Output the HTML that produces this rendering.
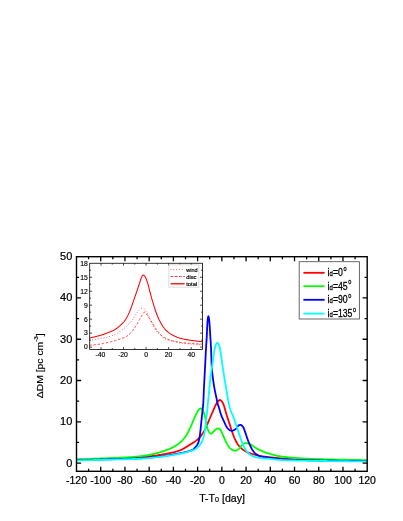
<!DOCTYPE html>
<html><head><meta charset="utf-8"><title>plot</title>
<style>html,body{margin:0;padding:0;background:#fff;}body{width:403px;height:521px;overflow:hidden;}svg{display:block;will-change:transform;transform:translateZ(0);}text{font-family:"Liberation Sans",sans-serif;fill:#000;}</style>
</head><body>
<svg width="403" height="521" viewBox="0 0 403 521">
<rect x="0" y="0" width="403" height="521" fill="#fff"/>
<clipPath id="cm"><rect x="76.5" y="256.7" width="290.7" height="214.60000000000002"/></clipPath>
<g clip-path="url(#cm)" fill="none" stroke-width="1.8" stroke-linejoin="round" stroke-linecap="round">
<path d="M76.80 459.80 L77.12 459.79 L77.45 459.78 L77.77 459.77 L78.09 459.76 L78.42 459.75 L78.74 459.74 L79.06 459.73 L79.39 459.72 L79.71 459.71 L80.03 459.70 L80.36 459.68 L80.68 459.67 L81.01 459.66 L81.33 459.65 L81.65 459.64 L81.98 459.63 L82.30 459.62 L82.62 459.61 L82.95 459.60 L83.27 459.59 L83.59 459.58 L83.92 459.57 L84.24 459.56 L84.56 459.55 L84.89 459.54 L85.21 459.53 L85.53 459.51 L85.86 459.50 L86.18 459.49 L86.50 459.48 L86.83 459.47 L87.15 459.46 L87.47 459.45 L87.80 459.44 L88.12 459.43 L88.44 459.42 L88.77 459.41 L89.09 459.40 L89.42 459.39 L89.74 459.38 L90.06 459.36 L90.39 459.35 L90.71 459.34 L91.03 459.33 L91.36 459.32 L91.68 459.31 L92.00 459.30 L92.33 459.29 L92.65 459.28 L92.97 459.27 L93.30 459.26 L93.62 459.25 L93.94 459.24 L94.27 459.22 L94.59 459.21 L94.91 459.20 L95.24 459.19 L95.56 459.18 L95.88 459.17 L96.21 459.16 L96.53 459.15 L96.86 459.14 L97.18 459.13 L97.50 459.12 L97.83 459.11 L98.15 459.10 L98.47 459.08 L98.80 459.07 L99.12 459.06 L99.44 459.05 L99.77 459.04 L100.09 459.03 L100.41 459.02 L100.74 459.01 L101.06 459.00 L101.38 458.99 L101.71 458.98 L102.03 458.97 L102.35 458.96 L102.68 458.94 L103.00 458.93 L103.32 458.92 L103.65 458.91 L103.97 458.90 L104.29 458.89 L104.62 458.88 L104.94 458.87 L105.27 458.86 L105.59 458.85 L105.91 458.84 L106.24 458.83 L106.56 458.82 L106.88 458.81 L107.21 458.80 L107.53 458.79 L107.85 458.78 L108.18 458.77 L108.50 458.76 L108.82 458.75 L109.15 458.74 L109.47 458.73 L109.79 458.72 L110.12 458.71 L110.44 458.70 L110.76 458.69 L111.09 458.68 L111.41 458.67 L111.73 458.66 L112.06 458.65 L112.38 458.64 L112.71 458.63 L113.03 458.62 L113.35 458.61 L113.68 458.60 L114.00 458.59 L114.32 458.58 L114.65 458.57 L114.97 458.56 L115.29 458.55 L115.62 458.54 L115.94 458.53 L116.26 458.52 L116.59 458.51 L116.91 458.50 L117.23 458.49 L117.56 458.48 L117.88 458.46 L118.20 458.45 L118.53 458.44 L118.85 458.43 L119.17 458.42 L119.50 458.41 L119.82 458.40 L120.15 458.39 L120.47 458.38 L120.79 458.37 L121.12 458.35 L121.44 458.34 L121.76 458.33 L122.09 458.32 L122.41 458.31 L122.73 458.30 L123.06 458.28 L123.38 458.27 L123.70 458.26 L124.03 458.25 L124.35 458.23 L124.67 458.22 L125.00 458.21 L125.32 458.20 L125.64 458.18 L125.97 458.17 L126.29 458.16 L126.61 458.15 L126.94 458.13 L127.26 458.12 L127.58 458.11 L127.91 458.09 L128.23 458.08 L128.56 458.06 L128.88 458.05 L129.20 458.04 L129.53 458.02 L129.85 458.01 L130.17 457.99 L130.50 457.98 L130.82 457.96 L131.14 457.94 L131.47 457.92 L131.79 457.90 L132.11 457.88 L132.44 457.86 L132.76 457.84 L133.08 457.82 L133.41 457.79 L133.73 457.77 L134.05 457.75 L134.38 457.72 L134.70 457.69 L135.02 457.67 L135.35 457.64 L135.67 457.61 L136.00 457.59 L136.32 457.56 L136.64 457.53 L136.97 457.50 L137.29 457.47 L137.61 457.44 L137.94 457.41 L138.26 457.38 L138.58 457.35 L138.91 457.32 L139.23 457.29 L139.55 457.26 L139.88 457.23 L140.20 457.20 L140.52 457.17 L140.85 457.14 L141.17 457.11 L141.49 457.08 L141.82 457.05 L142.14 457.02 L142.46 456.99 L142.79 456.97 L143.11 456.94 L143.43 456.91 L143.76 456.88 L144.08 456.85 L144.41 456.82 L144.73 456.79 L145.05 456.76 L145.38 456.73 L145.70 456.69 L146.02 456.66 L146.35 456.63 L146.67 456.60 L146.99 456.57 L147.32 456.53 L147.64 456.50 L147.96 456.47 L148.29 456.44 L148.61 456.40 L148.93 456.37 L149.26 456.33 L149.58 456.30 L149.90 456.27 L150.23 456.23 L150.55 456.19 L150.87 456.16 L151.20 456.12 L151.52 456.09 L151.85 456.05 L152.17 456.01 L152.49 455.98 L152.82 455.94 L153.14 455.90 L153.46 455.86 L153.79 455.82 L154.11 455.78 L154.43 455.75 L154.76 455.71 L155.08 455.67 L155.40 455.62 L155.73 455.58 L156.05 455.54 L156.37 455.49 L156.70 455.45 L157.02 455.40 L157.34 455.35 L157.67 455.30 L157.99 455.25 L158.31 455.20 L158.64 455.15 L158.96 455.10 L159.28 455.04 L159.61 454.99 L159.93 454.94 L160.26 454.88 L160.58 454.82 L160.90 454.77 L161.23 454.71 L161.55 454.65 L161.87 454.59 L162.20 454.54 L162.52 454.48 L162.84 454.42 L163.17 454.36 L163.49 454.30 L163.81 454.24 L164.14 454.18 L164.46 454.12 L164.78 454.06 L165.11 453.99 L165.43 453.93 L165.75 453.87 L166.08 453.81 L166.40 453.75 L166.72 453.69 L167.05 453.63 L167.37 453.57 L167.70 453.51 L168.02 453.44 L168.34 453.38 L168.67 453.32 L168.99 453.25 L169.31 453.19 L169.64 453.12 L169.96 453.06 L170.28 452.99 L170.61 452.92 L170.93 452.85 L171.25 452.78 L171.58 452.71 L171.90 452.63 L172.22 452.56 L172.55 452.49 L172.87 452.41 L173.19 452.33 L173.52 452.26 L173.84 452.18 L174.16 452.10 L174.49 452.01 L174.81 451.93 L175.14 451.85 L175.46 451.76 L175.78 451.67 L176.11 451.59 L176.43 451.50 L176.75 451.40 L177.08 451.31 L177.40 451.22 L177.72 451.12 L178.05 451.02 L178.37 450.92 L178.69 450.82 L179.02 450.72 L179.34 450.62 L179.66 450.51 L179.99 450.40 L180.31 450.29 L180.63 450.16 L180.96 450.02 L181.28 449.87 L181.60 449.71 L181.93 449.54 L182.25 449.36 L182.57 449.18 L182.90 448.99 L183.22 448.80 L183.55 448.60 L183.87 448.41 L184.19 448.22 L184.52 448.02 L184.84 447.84 L185.16 447.65 L185.49 447.46 L185.81 447.26 L186.13 447.07 L186.46 446.87 L186.78 446.67 L187.10 446.47 L187.43 446.26 L187.75 446.06 L188.07 445.85 L188.40 445.65 L188.72 445.44 L189.04 445.24 L189.37 445.03 L189.69 444.83 L190.01 444.63 L190.34 444.43 L190.66 444.23 L190.99 444.03 L191.31 443.84 L191.63 443.64 L191.96 443.45 L192.28 443.25 L192.60 443.05 L192.93 442.85 L193.25 442.65 L193.57 442.45 L193.90 442.24 L194.22 442.03 L194.54 441.81 L194.87 441.59 L195.19 441.36 L195.51 441.12 L195.84 440.88 L196.16 440.63 L196.48 440.36 L196.81 440.10 L197.13 439.82 L197.45 439.54 L197.78 439.25 L198.10 438.96 L198.42 438.66 L198.75 438.36 L199.07 438.04 L199.40 437.71 L199.72 437.36 L200.04 437.00 L200.37 436.62 L200.69 436.23 L201.01 435.83 L201.34 435.41 L201.66 434.98 L201.98 434.54 L202.31 434.09 L202.63 433.62 L202.95 433.11 L203.28 432.58 L203.60 432.01 L203.92 431.43 L204.25 430.83 L204.57 430.20 L204.89 429.56 L205.22 428.91 L205.54 428.25 L205.86 427.58 L206.19 426.90 L206.51 426.20 L206.84 425.47 L207.16 424.71 L207.48 423.95 L207.81 423.17 L208.13 422.38 L208.45 421.59 L208.78 420.80 L209.10 420.02 L209.42 419.25 L209.75 418.49 L210.07 417.74 L210.39 416.99 L210.72 416.24 L211.04 415.49 L211.36 414.74 L211.69 414.00 L212.01 413.26 L212.33 412.52 L212.66 411.78 L212.98 411.06 L213.30 410.33 L213.63 409.62 L213.95 408.89 L214.27 408.16 L214.60 407.42 L214.92 406.70 L215.25 405.98 L215.57 405.29 L215.89 404.63 L216.22 403.99 L216.54 403.41 L216.86 402.85 L217.19 402.32 L217.51 401.83 L217.83 401.39 L218.16 401.03 L218.48 400.75 L218.80 400.49 L219.13 400.26 L219.45 400.09 L219.77 400.00 L220.10 400.02 L220.42 400.15 L220.74 400.36 L221.07 400.61 L221.39 400.88 L221.71 401.22 L222.04 401.65 L222.36 402.17 L222.69 402.77 L223.01 403.43 L223.33 404.14 L223.66 404.90 L223.98 405.70 L224.30 406.67 L224.63 407.80 L224.95 409.00 L225.27 410.20 L225.60 411.33 L225.92 412.44 L226.24 413.55 L226.57 414.65 L226.89 415.74 L227.21 416.80 L227.54 417.83 L227.86 418.83 L228.18 419.80 L228.51 420.76 L228.83 421.71 L229.15 422.67 L229.48 423.63 L229.80 424.62 L230.13 425.62 L230.45 426.64 L230.77 427.66 L231.10 428.68 L231.42 429.69 L231.74 430.68 L232.07 431.64 L232.39 432.57 L232.71 433.48 L233.04 434.38 L233.36 435.26 L233.68 436.12 L234.01 436.95 L234.33 437.74 L234.65 438.48 L234.98 439.16 L235.30 439.82 L235.62 440.46 L235.95 441.10 L236.27 441.71 L236.59 442.31 L236.92 442.89 L237.24 443.43 L237.56 443.96 L237.89 444.45 L238.21 444.90 L238.54 445.32 L238.86 445.71 L239.18 446.09 L239.51 446.46 L239.83 446.82 L240.15 447.17 L240.48 447.50 L240.80 447.82 L241.12 448.13 L241.45 448.42 L241.77 448.69 L242.09 448.95 L242.42 449.18 L242.74 449.42 L243.06 449.65 L243.39 449.88 L243.71 450.10 L244.03 450.33 L244.36 450.54 L244.68 450.76 L245.00 450.96 L245.33 451.16 L245.65 451.36 L245.98 451.54 L246.30 451.72 L246.62 451.89 L246.95 452.04 L247.27 452.19 L247.59 452.32 L247.92 452.46 L248.24 452.59 L248.56 452.72 L248.89 452.84 L249.21 452.97 L249.53 453.09 L249.86 453.20 L250.18 453.32 L250.50 453.43 L250.83 453.54 L251.15 453.65 L251.47 453.75 L251.80 453.85 L252.12 453.95 L252.44 454.04 L252.77 454.14 L253.09 454.23 L253.41 454.32 L253.74 454.41 L254.06 454.51 L254.39 454.60 L254.71 454.68 L255.03 454.77 L255.36 454.86 L255.68 454.94 L256.00 455.02 L256.33 455.10 L256.65 455.18 L256.97 455.25 L257.30 455.32 L257.62 455.39 L257.94 455.46 L258.27 455.53 L258.59 455.61 L258.91 455.68 L259.24 455.74 L259.56 455.81 L259.88 455.88 L260.21 455.95 L260.53 456.01 L260.85 456.07 L261.18 456.14 L261.50 456.20 L261.83 456.25 L262.15 456.31 L262.47 456.36 L262.80 456.41 L263.12 456.46 L263.44 456.51 L263.77 456.55 L264.09 456.59 L264.41 456.63 L264.74 456.67 L265.06 456.71 L265.38 456.75 L265.71 456.78 L266.03 456.82 L266.35 456.85 L266.68 456.89 L267.00 456.92 L267.32 456.96 L267.65 456.99 L267.97 457.03 L268.29 457.06 L268.62 457.09 L268.94 457.13 L269.26 457.16 L269.59 457.20 L269.91 457.23 L270.24 457.27 L270.56 457.31 L270.88 457.34 L271.21 457.38 L271.53 457.41 L271.85 457.45 L272.18 457.49 L272.50 457.52 L272.82 457.56 L273.15 457.60 L273.47 457.63 L273.79 457.67 L274.12 457.71 L274.44 457.74 L274.76 457.78 L275.09 457.81 L275.41 457.85 L275.73 457.88 L276.06 457.92 L276.38 457.95 L276.70 457.99 L277.03 458.02 L277.35 458.05 L277.68 458.09 L278.00 458.12 L278.32 458.15 L278.65 458.18 L278.97 458.21 L279.29 458.24 L279.62 458.27 L279.94 458.30 L280.26 458.33 L280.59 458.36 L280.91 458.39 L281.23 458.42 L281.56 458.45 L281.88 458.48 L282.20 458.50 L282.53 458.53 L282.85 458.56 L283.17 458.59 L283.50 458.62 L283.82 458.65 L284.14 458.67 L284.47 458.70 L284.79 458.73 L285.12 458.76 L285.44 458.78 L285.76 458.81 L286.09 458.84 L286.41 458.86 L286.73 458.89 L287.06 458.92 L287.38 458.94 L287.70 458.97 L288.03 458.99 L288.35 459.02 L288.67 459.04 L289.00 459.06 L289.32 459.09 L289.64 459.11 L289.97 459.13 L290.29 459.15 L290.61 459.18 L290.94 459.20 L291.26 459.22 L291.58 459.24 L291.91 459.26 L292.23 459.27 L292.55 459.29 L292.88 459.31 L293.20 459.33 L293.53 459.34 L293.85 459.36 L294.17 459.37 L294.50 459.39 L294.82 459.40 L295.14 459.41 L295.47 459.43 L295.79 459.44 L296.11 459.45 L296.44 459.47 L296.76 459.48 L297.08 459.49 L297.41 459.50 L297.73 459.52 L298.05 459.53 L298.38 459.54 L298.70 459.55 L299.02 459.57 L299.35 459.58 L299.67 459.59 L299.99 459.60 L300.32 459.62 L300.64 459.63 L300.97 459.64 L301.29 459.65 L301.61 459.66 L301.94 459.68 L302.26 459.69 L302.58 459.70 L302.91 459.71 L303.23 459.72 L303.55 459.73 L303.88 459.75 L304.20 459.76 L304.52 459.77 L304.85 459.78 L305.17 459.79 L305.49 459.80 L305.82 459.81 L306.14 459.82 L306.46 459.83 L306.79 459.85 L307.11 459.86 L307.43 459.87 L307.76 459.88 L308.08 459.89 L308.40 459.90 L308.73 459.91 L309.05 459.92 L309.38 459.93 L309.70 459.94 L310.02 459.95 L310.35 459.96 L310.67 459.97 L310.99 459.98 L311.32 459.99 L311.64 460.00 L311.96 460.01 L312.29 460.02 L312.61 460.03 L312.93 460.04 L313.26 460.04 L313.58 460.05 L313.90 460.06 L314.23 460.07 L314.55 460.08 L314.87 460.09 L315.20 460.10 L315.52 460.11 L315.84 460.11 L316.17 460.12 L316.49 460.13 L316.82 460.14 L317.14 460.15 L317.46 460.15 L317.79 460.16 L318.11 460.17 L318.43 460.18 L318.76 460.18 L319.08 460.19 L319.40 460.20 L319.73 460.20 L320.05 460.21 L320.37 460.22 L320.70 460.22 L321.02 460.23 L321.34 460.24 L321.67 460.24 L321.99 460.25 L322.31 460.26 L322.64 460.26 L322.96 460.27 L323.28 460.27 L323.61 460.28 L323.93 460.28 L324.25 460.29 L324.58 460.29 L324.90 460.30 L325.23 460.30 L325.55 460.31 L325.87 460.31 L326.20 460.32 L326.52 460.32 L326.84 460.33 L327.17 460.33 L327.49 460.34 L327.81 460.34 L328.14 460.35 L328.46 460.35 L328.78 460.36 L329.11 460.36 L329.43 460.37 L329.75 460.37 L330.08 460.38 L330.40 460.38 L330.72 460.39 L331.05 460.39 L331.37 460.40 L331.69 460.40 L332.02 460.41 L332.34 460.41 L332.67 460.42 L332.99 460.42 L333.31 460.43 L333.64 460.43 L333.96 460.44 L334.28 460.44 L334.61 460.45 L334.93 460.45 L335.25 460.46 L335.58 460.46 L335.90 460.47 L336.22 460.47 L336.55 460.48 L336.87 460.48 L337.19 460.49 L337.52 460.49 L337.84 460.50 L338.16 460.50 L338.49 460.51 L338.81 460.51 L339.13 460.52 L339.46 460.52 L339.78 460.53 L340.11 460.53 L340.43 460.54 L340.75 460.54 L341.08 460.55 L341.40 460.55 L341.72 460.55 L342.05 460.56 L342.37 460.56 L342.69 460.57 L343.02 460.57 L343.34 460.58 L343.66 460.58 L343.99 460.59 L344.31 460.59 L344.63 460.60 L344.96 460.60 L345.28 460.61 L345.60 460.61 L345.93 460.61 L346.25 460.62 L346.57 460.62 L346.90 460.63 L347.22 460.63 L347.54 460.64 L347.87 460.64 L348.19 460.64 L348.52 460.65 L348.84 460.65 L349.16 460.66 L349.49 460.66 L349.81 460.66 L350.13 460.67 L350.46 460.67 L350.78 460.68 L351.10 460.68 L351.43 460.68 L351.75 460.69 L352.07 460.69 L352.40 460.69 L352.72 460.70 L353.04 460.70 L353.37 460.70 L353.69 460.71 L354.01 460.71 L354.34 460.71 L354.66 460.72 L354.98 460.72 L355.31 460.72 L355.63 460.73 L355.96 460.73 L356.28 460.73 L356.60 460.74 L356.93 460.74 L357.25 460.74 L357.57 460.75 L357.90 460.75 L358.22 460.75 L358.54 460.75 L358.87 460.76 L359.19 460.76 L359.51 460.76 L359.84 460.76 L360.16 460.77 L360.48 460.77 L360.81 460.77 L361.13 460.77 L361.45 460.77 L361.78 460.78 L362.10 460.78 L362.42 460.78 L362.75 460.78 L363.07 460.78 L363.39 460.79 L363.72 460.79 L364.04 460.79 L364.37 460.79 L364.69 460.79 L365.01 460.79 L365.34 460.79 L365.66 460.79 L365.98 460.80 L366.31 460.80 L366.63 460.80 L366.95 460.80 L367.28 460.80 L367.60 460.80" stroke="#ff0000"/>
<path d="M76.80 459.30 L77.12 459.29 L77.45 459.28 L77.77 459.27 L78.09 459.27 L78.42 459.26 L78.74 459.25 L79.06 459.24 L79.39 459.23 L79.71 459.22 L80.03 459.21 L80.36 459.20 L80.68 459.19 L81.01 459.18 L81.33 459.18 L81.65 459.17 L81.98 459.16 L82.30 459.15 L82.62 459.14 L82.95 459.13 L83.27 459.12 L83.59 459.11 L83.92 459.10 L84.24 459.09 L84.56 459.08 L84.89 459.07 L85.21 459.05 L85.53 459.04 L85.86 459.03 L86.18 459.02 L86.50 459.01 L86.83 459.00 L87.15 458.99 L87.47 458.98 L87.80 458.97 L88.12 458.96 L88.44 458.95 L88.77 458.94 L89.09 458.93 L89.42 458.91 L89.74 458.90 L90.06 458.89 L90.39 458.88 L90.71 458.87 L91.03 458.86 L91.36 458.85 L91.68 458.84 L92.00 458.82 L92.33 458.81 L92.65 458.80 L92.97 458.79 L93.30 458.78 L93.62 458.77 L93.94 458.75 L94.27 458.74 L94.59 458.73 L94.91 458.72 L95.24 458.71 L95.56 458.70 L95.88 458.68 L96.21 458.67 L96.53 458.66 L96.86 458.65 L97.18 458.64 L97.50 458.63 L97.83 458.61 L98.15 458.60 L98.47 458.59 L98.80 458.58 L99.12 458.57 L99.44 458.56 L99.77 458.54 L100.09 458.53 L100.41 458.52 L100.74 458.51 L101.06 458.50 L101.38 458.49 L101.71 458.47 L102.03 458.46 L102.35 458.45 L102.68 458.44 L103.00 458.43 L103.32 458.41 L103.65 458.40 L103.97 458.39 L104.29 458.38 L104.62 458.37 L104.94 458.35 L105.27 458.34 L105.59 458.33 L105.91 458.32 L106.24 458.30 L106.56 458.29 L106.88 458.28 L107.21 458.27 L107.53 458.25 L107.85 458.24 L108.18 458.23 L108.50 458.21 L108.82 458.20 L109.15 458.19 L109.47 458.17 L109.79 458.16 L110.12 458.15 L110.44 458.13 L110.76 458.12 L111.09 458.11 L111.41 458.09 L111.73 458.08 L112.06 458.07 L112.38 458.05 L112.71 458.04 L113.03 458.03 L113.35 458.01 L113.68 458.00 L114.00 457.98 L114.32 457.97 L114.65 457.95 L114.97 457.94 L115.29 457.93 L115.62 457.91 L115.94 457.90 L116.26 457.88 L116.59 457.87 L116.91 457.85 L117.23 457.84 L117.56 457.82 L117.88 457.81 L118.20 457.79 L118.53 457.78 L118.85 457.76 L119.17 457.75 L119.50 457.73 L119.82 457.72 L120.15 457.70 L120.47 457.69 L120.79 457.67 L121.12 457.66 L121.44 457.64 L121.76 457.62 L122.09 457.61 L122.41 457.59 L122.73 457.58 L123.06 457.56 L123.38 457.54 L123.70 457.53 L124.03 457.51 L124.35 457.50 L124.67 457.48 L125.00 457.46 L125.32 457.45 L125.64 457.43 L125.97 457.41 L126.29 457.40 L126.61 457.38 L126.94 457.36 L127.26 457.35 L127.58 457.33 L127.91 457.31 L128.23 457.29 L128.56 457.28 L128.88 457.26 L129.20 457.24 L129.53 457.23 L129.85 457.21 L130.17 457.19 L130.50 457.17 L130.82 457.15 L131.14 457.13 L131.47 457.11 L131.79 457.09 L132.11 457.06 L132.44 457.04 L132.76 457.01 L133.08 456.99 L133.41 456.96 L133.73 456.93 L134.05 456.91 L134.38 456.88 L134.70 456.85 L135.02 456.82 L135.35 456.78 L135.67 456.75 L136.00 456.72 L136.32 456.69 L136.64 456.65 L136.97 456.62 L137.29 456.59 L137.61 456.55 L137.94 456.52 L138.26 456.48 L138.58 456.44 L138.91 456.41 L139.23 456.37 L139.55 456.33 L139.88 456.30 L140.20 456.26 L140.52 456.22 L140.85 456.18 L141.17 456.15 L141.49 456.11 L141.82 456.07 L142.14 456.03 L142.46 455.99 L142.79 455.95 L143.11 455.91 L143.43 455.87 L143.76 455.83 L144.08 455.78 L144.41 455.73 L144.73 455.69 L145.05 455.64 L145.38 455.58 L145.70 455.53 L146.02 455.48 L146.35 455.42 L146.67 455.37 L146.99 455.31 L147.32 455.25 L147.64 455.20 L147.96 455.14 L148.29 455.07 L148.61 455.01 L148.93 454.95 L149.26 454.89 L149.58 454.82 L149.90 454.76 L150.23 454.69 L150.55 454.62 L150.87 454.56 L151.20 454.49 L151.52 454.42 L151.85 454.35 L152.17 454.28 L152.49 454.21 L152.82 454.14 L153.14 454.07 L153.46 454.00 L153.79 453.93 L154.11 453.85 L154.43 453.78 L154.76 453.71 L155.08 453.64 L155.40 453.56 L155.73 453.48 L156.05 453.40 L156.37 453.32 L156.70 453.24 L157.02 453.15 L157.34 453.06 L157.67 452.97 L157.99 452.88 L158.31 452.79 L158.64 452.70 L158.96 452.60 L159.28 452.50 L159.61 452.40 L159.93 452.30 L160.26 452.20 L160.58 452.10 L160.90 451.99 L161.23 451.89 L161.55 451.78 L161.87 451.68 L162.20 451.57 L162.52 451.46 L162.84 451.35 L163.17 451.24 L163.49 451.12 L163.81 451.01 L164.14 450.90 L164.46 450.78 L164.78 450.67 L165.11 450.55 L165.43 450.44 L165.75 450.32 L166.08 450.21 L166.40 450.09 L166.72 449.97 L167.05 449.85 L167.37 449.74 L167.70 449.62 L168.02 449.49 L168.34 449.36 L168.67 449.23 L168.99 449.09 L169.31 448.95 L169.64 448.81 L169.96 448.67 L170.28 448.52 L170.61 448.37 L170.93 448.22 L171.25 448.06 L171.58 447.91 L171.90 447.75 L172.22 447.59 L172.55 447.43 L172.87 447.27 L173.19 447.10 L173.52 446.94 L173.84 446.77 L174.16 446.60 L174.49 446.42 L174.81 446.23 L175.14 446.05 L175.46 445.85 L175.78 445.66 L176.11 445.46 L176.43 445.25 L176.75 445.04 L177.08 444.83 L177.40 444.61 L177.72 444.39 L178.05 444.16 L178.37 443.94 L178.69 443.70 L179.02 443.47 L179.34 443.21 L179.66 442.94 L179.99 442.66 L180.31 442.37 L180.63 442.07 L180.96 441.76 L181.28 441.44 L181.60 441.12 L181.93 440.79 L182.25 440.45 L182.57 440.12 L182.90 439.76 L183.22 439.39 L183.55 439.01 L183.87 438.62 L184.19 438.21 L184.52 437.78 L184.84 437.35 L185.16 436.90 L185.49 436.45 L185.81 435.98 L186.13 435.50 L186.46 435.01 L186.78 434.49 L187.10 433.94 L187.43 433.37 L187.75 432.78 L188.07 432.18 L188.40 431.55 L188.72 430.92 L189.04 430.26 L189.37 429.60 L189.69 428.94 L190.01 428.26 L190.34 427.56 L190.66 426.83 L190.99 426.08 L191.31 425.32 L191.63 424.55 L191.96 423.77 L192.28 422.98 L192.60 422.20 L192.93 421.42 L193.25 420.66 L193.57 419.91 L193.90 419.17 L194.22 418.43 L194.54 417.68 L194.87 416.95 L195.19 416.22 L195.51 415.51 L195.84 414.83 L196.16 414.18 L196.48 413.53 L196.81 412.88 L197.13 412.25 L197.45 411.65 L197.78 411.08 L198.10 410.56 L198.42 410.11 L198.75 409.73 L199.07 409.39 L199.40 409.09 L199.72 408.84 L200.04 408.64 L200.37 408.49 L200.69 408.41 L201.01 408.42 L201.34 408.57 L201.66 408.84 L201.98 409.21 L202.31 409.64 L202.63 410.10 L202.95 410.58 L203.28 411.21 L203.60 412.03 L203.92 413.00 L204.25 414.09 L204.57 415.25 L204.89 416.47 L205.22 417.91 L205.54 419.56 L205.86 421.28 L206.19 422.95 L206.51 424.44 L206.84 425.73 L207.16 427.00 L207.48 428.20 L207.81 429.29 L208.13 430.21 L208.45 430.92 L208.78 431.47 L209.10 432.02 L209.42 432.54 L209.75 433.01 L210.07 433.39 L210.39 433.64 L210.72 433.75 L211.04 433.68 L211.36 433.50 L211.69 433.27 L212.01 433.01 L212.33 432.72 L212.66 432.42 L212.98 432.10 L213.30 431.79 L213.63 431.48 L213.95 431.14 L214.27 430.79 L214.60 430.43 L214.92 430.08 L215.25 429.75 L215.57 429.45 L215.89 429.21 L216.22 429.01 L216.54 428.84 L216.86 428.71 L217.19 428.62 L217.51 428.55 L217.83 428.51 L218.16 428.50 L218.48 428.53 L218.80 428.61 L219.13 428.76 L219.45 428.96 L219.77 429.21 L220.10 429.50 L220.42 429.84 L220.74 430.21 L221.07 430.64 L221.39 431.27 L221.71 432.04 L222.04 432.87 L222.36 433.68 L222.69 434.42 L223.01 435.17 L223.33 435.93 L223.66 436.70 L223.98 437.47 L224.30 438.24 L224.63 439.00 L224.95 439.73 L225.27 440.45 L225.60 441.13 L225.92 441.78 L226.24 442.38 L226.57 442.96 L226.89 443.54 L227.21 444.11 L227.54 444.66 L227.86 445.20 L228.18 445.71 L228.51 446.21 L228.83 446.67 L229.15 447.10 L229.48 447.50 L229.80 447.87 L230.13 448.19 L230.45 448.46 L230.77 448.70 L231.10 448.95 L231.42 449.18 L231.74 449.41 L232.07 449.63 L232.39 449.84 L232.71 450.03 L233.04 450.20 L233.36 450.35 L233.68 450.48 L234.01 450.58 L234.33 450.65 L234.65 450.69 L234.98 450.70 L235.30 450.67 L235.62 450.62 L235.95 450.54 L236.27 450.43 L236.59 450.31 L236.92 450.16 L237.24 449.99 L237.56 449.80 L237.89 449.60 L238.21 449.38 L238.54 449.15 L238.86 448.88 L239.18 448.55 L239.51 448.17 L239.83 447.75 L240.15 447.30 L240.48 446.86 L240.80 446.42 L241.12 446.01 L241.45 445.65 L241.77 445.34 L242.09 445.05 L242.42 444.77 L242.74 444.49 L243.06 444.23 L243.39 443.98 L243.71 443.76 L244.03 443.56 L244.36 443.40 L244.68 443.28 L245.00 443.20 L245.33 443.14 L245.65 443.10 L245.98 443.09 L246.30 443.13 L246.62 443.17 L246.95 443.22 L247.27 443.29 L247.59 443.36 L247.92 443.45 L248.24 443.54 L248.56 443.64 L248.89 443.75 L249.21 443.87 L249.53 443.99 L249.86 444.12 L250.18 444.27 L250.50 444.44 L250.83 444.62 L251.15 444.81 L251.47 445.02 L251.80 445.23 L252.12 445.45 L252.44 445.68 L252.77 445.91 L253.09 446.14 L253.41 446.36 L253.74 446.58 L254.06 446.80 L254.39 447.01 L254.71 447.21 L255.03 447.40 L255.36 447.59 L255.68 447.78 L256.00 447.97 L256.33 448.16 L256.65 448.35 L256.97 448.53 L257.30 448.72 L257.62 448.90 L257.94 449.08 L258.27 449.26 L258.59 449.43 L258.91 449.60 L259.24 449.77 L259.56 449.93 L259.88 450.09 L260.21 450.25 L260.53 450.41 L260.85 450.56 L261.18 450.72 L261.50 450.87 L261.83 451.02 L262.15 451.16 L262.47 451.31 L262.80 451.45 L263.12 451.59 L263.44 451.72 L263.77 451.85 L264.09 451.98 L264.41 452.10 L264.74 452.21 L265.06 452.32 L265.38 452.43 L265.71 452.54 L266.03 452.64 L266.35 452.74 L266.68 452.83 L267.00 452.93 L267.32 453.02 L267.65 453.12 L267.97 453.21 L268.29 453.31 L268.62 453.40 L268.94 453.50 L269.26 453.60 L269.59 453.70 L269.91 453.80 L270.24 453.91 L270.56 454.02 L270.88 454.13 L271.21 454.23 L271.53 454.34 L271.85 454.44 L272.18 454.54 L272.50 454.63 L272.82 454.71 L273.15 454.80 L273.47 454.89 L273.79 454.98 L274.12 455.06 L274.44 455.15 L274.76 455.23 L275.09 455.31 L275.41 455.39 L275.73 455.47 L276.06 455.55 L276.38 455.63 L276.70 455.70 L277.03 455.78 L277.35 455.85 L277.68 455.91 L278.00 455.98 L278.32 456.04 L278.65 456.10 L278.97 456.16 L279.29 456.21 L279.62 456.26 L279.94 456.31 L280.26 456.35 L280.59 456.39 L280.91 456.44 L281.23 456.48 L281.56 456.52 L281.88 456.57 L282.20 456.61 L282.53 456.65 L282.85 456.69 L283.17 456.73 L283.50 456.78 L283.82 456.82 L284.14 456.86 L284.47 456.90 L284.79 456.93 L285.12 456.97 L285.44 457.01 L285.76 457.05 L286.09 457.09 L286.41 457.12 L286.73 457.16 L287.06 457.20 L287.38 457.23 L287.70 457.27 L288.03 457.30 L288.35 457.33 L288.67 457.37 L289.00 457.40 L289.32 457.43 L289.64 457.47 L289.97 457.50 L290.29 457.53 L290.61 457.56 L290.94 457.59 L291.26 457.62 L291.58 457.65 L291.91 457.67 L292.23 457.70 L292.55 457.73 L292.88 457.75 L293.20 457.78 L293.53 457.81 L293.85 457.83 L294.17 457.85 L294.50 457.88 L294.82 457.90 L295.14 457.92 L295.47 457.95 L295.79 457.97 L296.11 457.99 L296.44 458.01 L296.76 458.04 L297.08 458.06 L297.41 458.08 L297.73 458.11 L298.05 458.13 L298.38 458.15 L298.70 458.17 L299.02 458.19 L299.35 458.22 L299.67 458.24 L299.99 458.26 L300.32 458.28 L300.64 458.30 L300.97 458.32 L301.29 458.35 L301.61 458.37 L301.94 458.39 L302.26 458.41 L302.58 458.43 L302.91 458.45 L303.23 458.47 L303.55 458.49 L303.88 458.51 L304.20 458.53 L304.52 458.55 L304.85 458.56 L305.17 458.58 L305.49 458.60 L305.82 458.62 L306.14 458.64 L306.46 458.65 L306.79 458.67 L307.11 458.68 L307.43 458.70 L307.76 458.72 L308.08 458.73 L308.40 458.75 L308.73 458.76 L309.05 458.77 L309.38 458.79 L309.70 458.80 L310.02 458.81 L310.35 458.83 L310.67 458.84 L310.99 458.85 L311.32 458.86 L311.64 458.88 L311.96 458.89 L312.29 458.90 L312.61 458.91 L312.93 458.92 L313.26 458.94 L313.58 458.95 L313.90 458.96 L314.23 458.97 L314.55 458.98 L314.87 459.00 L315.20 459.01 L315.52 459.02 L315.84 459.03 L316.17 459.04 L316.49 459.05 L316.82 459.06 L317.14 459.07 L317.46 459.09 L317.79 459.10 L318.11 459.11 L318.43 459.12 L318.76 459.13 L319.08 459.14 L319.40 459.15 L319.73 459.16 L320.05 459.17 L320.37 459.18 L320.70 459.19 L321.02 459.20 L321.34 459.21 L321.67 459.22 L321.99 459.22 L322.31 459.23 L322.64 459.24 L322.96 459.25 L323.28 459.26 L323.61 459.27 L323.93 459.28 L324.25 459.28 L324.58 459.29 L324.90 459.30 L325.23 459.31 L325.55 459.31 L325.87 459.32 L326.20 459.33 L326.52 459.33 L326.84 459.34 L327.17 459.35 L327.49 459.36 L327.81 459.36 L328.14 459.37 L328.46 459.38 L328.78 459.39 L329.11 459.39 L329.43 459.40 L329.75 459.41 L330.08 459.41 L330.40 459.42 L330.72 459.43 L331.05 459.44 L331.37 459.44 L331.69 459.45 L332.02 459.46 L332.34 459.47 L332.67 459.47 L332.99 459.48 L333.31 459.49 L333.64 459.50 L333.96 459.50 L334.28 459.51 L334.61 459.52 L334.93 459.52 L335.25 459.53 L335.58 459.54 L335.90 459.55 L336.22 459.55 L336.55 459.56 L336.87 459.57 L337.19 459.58 L337.52 459.58 L337.84 459.59 L338.16 459.60 L338.49 459.60 L338.81 459.61 L339.13 459.62 L339.46 459.63 L339.78 459.63 L340.11 459.64 L340.43 459.65 L340.75 459.65 L341.08 459.66 L341.40 459.67 L341.72 459.68 L342.05 459.68 L342.37 459.69 L342.69 459.70 L343.02 459.70 L343.34 459.71 L343.66 459.72 L343.99 459.72 L344.31 459.73 L344.63 459.74 L344.96 459.74 L345.28 459.75 L345.60 459.76 L345.93 459.76 L346.25 459.77 L346.57 459.78 L346.90 459.78 L347.22 459.79 L347.54 459.80 L347.87 459.80 L348.19 459.81 L348.52 459.82 L348.84 459.82 L349.16 459.83 L349.49 459.83 L349.81 459.84 L350.13 459.85 L350.46 459.85 L350.78 459.86 L351.10 459.87 L351.43 459.87 L351.75 459.88 L352.07 459.88 L352.40 459.89 L352.72 459.90 L353.04 459.90 L353.37 459.91 L353.69 459.91 L354.01 459.92 L354.34 459.92 L354.66 459.93 L354.98 459.93 L355.31 459.94 L355.63 459.95 L355.96 459.95 L356.28 459.96 L356.60 459.96 L356.93 459.97 L357.25 459.97 L357.57 459.98 L357.90 459.98 L358.22 459.99 L358.54 459.99 L358.87 460.00 L359.19 460.00 L359.51 460.01 L359.84 460.01 L360.16 460.01 L360.48 460.02 L360.81 460.02 L361.13 460.03 L361.45 460.03 L361.78 460.04 L362.10 460.04 L362.42 460.04 L362.75 460.05 L363.07 460.05 L363.39 460.06 L363.72 460.06 L364.04 460.06 L364.37 460.07 L364.69 460.07 L365.01 460.07 L365.34 460.08 L365.66 460.08 L365.98 460.08 L366.31 460.09 L366.63 460.09 L366.95 460.09 L367.28 460.10 L367.60 460.10" stroke="#00ff00"/>
<path d="M76.80 460.20 L77.12 460.19 L77.45 460.18 L77.77 460.17 L78.09 460.16 L78.42 460.15 L78.74 460.14 L79.06 460.13 L79.39 460.12 L79.71 460.11 L80.03 460.10 L80.36 460.10 L80.68 460.09 L81.01 460.08 L81.33 460.07 L81.65 460.06 L81.98 460.05 L82.30 460.04 L82.62 460.03 L82.95 460.02 L83.27 460.01 L83.59 460.00 L83.92 459.99 L84.24 459.98 L84.56 459.97 L84.89 459.96 L85.21 459.95 L85.53 459.94 L85.86 459.93 L86.18 459.93 L86.50 459.92 L86.83 459.91 L87.15 459.90 L87.47 459.89 L87.80 459.88 L88.12 459.87 L88.44 459.86 L88.77 459.85 L89.09 459.84 L89.42 459.83 L89.74 459.82 L90.06 459.81 L90.39 459.80 L90.71 459.79 L91.03 459.78 L91.36 459.78 L91.68 459.77 L92.00 459.76 L92.33 459.75 L92.65 459.74 L92.97 459.73 L93.30 459.72 L93.62 459.71 L93.94 459.70 L94.27 459.69 L94.59 459.68 L94.91 459.67 L95.24 459.66 L95.56 459.65 L95.88 459.65 L96.21 459.64 L96.53 459.63 L96.86 459.62 L97.18 459.61 L97.50 459.60 L97.83 459.59 L98.15 459.58 L98.47 459.57 L98.80 459.56 L99.12 459.55 L99.44 459.54 L99.77 459.54 L100.09 459.53 L100.41 459.52 L100.74 459.51 L101.06 459.50 L101.38 459.49 L101.71 459.48 L102.03 459.47 L102.35 459.46 L102.68 459.45 L103.00 459.44 L103.32 459.43 L103.65 459.43 L103.97 459.42 L104.29 459.41 L104.62 459.40 L104.94 459.39 L105.27 459.38 L105.59 459.37 L105.91 459.36 L106.24 459.35 L106.56 459.35 L106.88 459.34 L107.21 459.33 L107.53 459.32 L107.85 459.31 L108.18 459.30 L108.50 459.29 L108.82 459.28 L109.15 459.28 L109.47 459.27 L109.79 459.26 L110.12 459.25 L110.44 459.24 L110.76 459.23 L111.09 459.22 L111.41 459.22 L111.73 459.21 L112.06 459.20 L112.38 459.19 L112.71 459.18 L113.03 459.17 L113.35 459.16 L113.68 459.16 L114.00 459.15 L114.32 459.14 L114.65 459.13 L114.97 459.12 L115.29 459.11 L115.62 459.10 L115.94 459.09 L116.26 459.09 L116.59 459.08 L116.91 459.07 L117.23 459.06 L117.56 459.05 L117.88 459.04 L118.20 459.03 L118.53 459.03 L118.85 459.02 L119.17 459.01 L119.50 459.00 L119.82 458.99 L120.15 458.98 L120.47 458.97 L120.79 458.96 L121.12 458.95 L121.44 458.95 L121.76 458.94 L122.09 458.93 L122.41 458.92 L122.73 458.91 L123.06 458.90 L123.38 458.89 L123.70 458.88 L124.03 458.87 L124.35 458.86 L124.67 458.86 L125.00 458.85 L125.32 458.84 L125.64 458.83 L125.97 458.82 L126.29 458.81 L126.61 458.80 L126.94 458.79 L127.26 458.78 L127.58 458.77 L127.91 458.76 L128.23 458.75 L128.56 458.74 L128.88 458.73 L129.20 458.72 L129.53 458.71 L129.85 458.70 L130.17 458.69 L130.50 458.68 L130.82 458.67 L131.14 458.66 L131.47 458.65 L131.79 458.64 L132.11 458.63 L132.44 458.62 L132.76 458.61 L133.08 458.60 L133.41 458.59 L133.73 458.58 L134.05 458.57 L134.38 458.55 L134.70 458.54 L135.02 458.53 L135.35 458.52 L135.67 458.50 L136.00 458.49 L136.32 458.48 L136.64 458.47 L136.97 458.45 L137.29 458.44 L137.61 458.43 L137.94 458.41 L138.26 458.40 L138.58 458.38 L138.91 458.37 L139.23 458.35 L139.55 458.34 L139.88 458.32 L140.20 458.31 L140.52 458.29 L140.85 458.28 L141.17 458.26 L141.49 458.25 L141.82 458.23 L142.14 458.21 L142.46 458.20 L142.79 458.18 L143.11 458.16 L143.43 458.14 L143.76 458.12 L144.08 458.10 L144.41 458.08 L144.73 458.06 L145.05 458.03 L145.38 458.01 L145.70 457.98 L146.02 457.96 L146.35 457.93 L146.67 457.90 L146.99 457.88 L147.32 457.85 L147.64 457.82 L147.96 457.79 L148.29 457.76 L148.61 457.73 L148.93 457.70 L149.26 457.67 L149.58 457.64 L149.90 457.60 L150.23 457.57 L150.55 457.54 L150.87 457.51 L151.20 457.47 L151.52 457.44 L151.85 457.41 L152.17 457.37 L152.49 457.34 L152.82 457.31 L153.14 457.27 L153.46 457.24 L153.79 457.21 L154.11 457.17 L154.43 457.14 L154.76 457.10 L155.08 457.07 L155.40 457.04 L155.73 457.00 L156.05 456.97 L156.37 456.93 L156.70 456.89 L157.02 456.86 L157.34 456.82 L157.67 456.78 L157.99 456.74 L158.31 456.70 L158.64 456.66 L158.96 456.62 L159.28 456.58 L159.61 456.54 L159.93 456.50 L160.26 456.46 L160.58 456.42 L160.90 456.37 L161.23 456.33 L161.55 456.29 L161.87 456.24 L162.20 456.20 L162.52 456.16 L162.84 456.11 L163.17 456.07 L163.49 456.02 L163.81 455.98 L164.14 455.93 L164.46 455.89 L164.78 455.84 L165.11 455.80 L165.43 455.75 L165.75 455.71 L166.08 455.66 L166.40 455.61 L166.72 455.57 L167.05 455.52 L167.37 455.48 L167.70 455.43 L168.02 455.38 L168.34 455.33 L168.67 455.28 L168.99 455.23 L169.31 455.18 L169.64 455.13 L169.96 455.08 L170.28 455.03 L170.61 454.98 L170.93 454.92 L171.25 454.87 L171.58 454.81 L171.90 454.76 L172.22 454.71 L172.55 454.65 L172.87 454.59 L173.19 454.54 L173.52 454.48 L173.84 454.42 L174.16 454.37 L174.49 454.31 L174.81 454.25 L175.14 454.19 L175.46 454.13 L175.78 454.08 L176.11 454.02 L176.43 453.96 L176.75 453.90 L177.08 453.84 L177.40 453.78 L177.72 453.72 L178.05 453.66 L178.37 453.60 L178.69 453.54 L179.02 453.48 L179.34 453.42 L179.66 453.36 L179.99 453.30 L180.31 453.24 L180.63 453.18 L180.96 453.12 L181.28 453.06 L181.60 452.99 L181.93 452.93 L182.25 452.86 L182.57 452.79 L182.90 452.72 L183.22 452.65 L183.55 452.58 L183.87 452.50 L184.19 452.43 L184.52 452.35 L184.84 452.28 L185.16 452.20 L185.49 452.12 L185.81 452.04 L186.13 451.95 L186.46 451.87 L186.78 451.78 L187.10 451.69 L187.43 451.60 L187.75 451.51 L188.07 451.42 L188.40 451.32 L188.72 451.23 L189.04 451.13 L189.37 451.03 L189.69 450.93 L190.01 450.82 L190.34 450.72 L190.66 450.61 L190.99 450.50 L191.31 450.39 L191.63 450.28 L191.96 450.16 L192.28 450.04 L192.60 449.91 L192.93 449.72 L193.25 449.48 L193.57 449.19 L193.90 448.87 L194.22 448.52 L194.54 448.16 L194.87 447.79 L195.19 447.43 L195.51 447.09 L195.84 446.73 L196.16 446.33 L196.48 445.89 L196.81 445.41 L197.13 444.91 L197.45 444.37 L197.78 443.80 L198.10 443.19 L198.42 442.32 L198.75 441.16 L199.07 439.78 L199.40 438.23 L199.72 436.52 L200.04 434.11 L200.37 431.30 L200.69 428.34 L201.01 425.15 L201.34 421.95 L201.66 418.75 L201.98 415.53 L202.31 412.34 L202.63 409.53 L202.95 406.81 L203.28 403.30 L203.60 396.63 L203.92 388.71 L204.25 382.46 L204.57 376.40 L204.89 370.26 L205.22 364.05 L205.54 357.52 L205.86 351.15 L206.19 345.75 L206.51 340.88 L206.84 335.30 L207.16 327.44 L207.48 321.76 L207.81 318.56 L208.13 316.86 L208.45 316.24 L208.78 317.36 L209.10 319.34 L209.42 322.68 L209.75 326.99 L210.07 332.22 L210.39 337.47 L210.72 342.53 L211.04 348.28 L211.36 357.72 L211.69 365.78 L212.01 370.23 L212.33 373.74 L212.66 376.49 L212.98 378.84 L213.30 381.13 L213.63 383.35 L213.95 385.45 L214.27 387.41 L214.60 389.19 L214.92 390.83 L215.25 392.38 L215.57 393.88 L215.89 395.36 L216.22 396.83 L216.54 398.34 L216.86 399.91 L217.19 401.58 L217.51 403.04 L217.83 404.22 L218.16 405.28 L218.48 406.27 L218.80 407.25 L219.13 408.26 L219.45 409.35 L219.77 410.48 L220.10 411.61 L220.42 412.72 L220.74 413.76 L221.07 414.69 L221.39 415.54 L221.71 416.36 L222.04 417.14 L222.36 417.89 L222.69 418.62 L223.01 419.32 L223.33 420.01 L223.66 420.70 L223.98 421.38 L224.30 422.09 L224.63 422.81 L224.95 423.54 L225.27 424.26 L225.60 424.96 L225.92 425.63 L226.24 426.26 L226.57 426.84 L226.89 427.35 L227.21 427.79 L227.54 428.15 L227.86 428.48 L228.18 428.81 L228.51 429.12 L228.83 429.41 L229.15 429.69 L229.48 429.94 L229.80 430.16 L230.13 430.36 L230.45 430.52 L230.77 430.65 L231.10 430.74 L231.42 430.80 L231.74 430.80 L232.07 430.77 L232.39 430.71 L232.71 430.63 L233.04 430.52 L233.36 430.39 L233.68 430.24 L234.01 430.07 L234.33 429.88 L234.65 429.67 L234.98 429.46 L235.30 429.22 L235.62 428.98 L235.95 428.72 L236.27 428.45 L236.59 428.08 L236.92 427.65 L237.24 427.18 L237.56 426.71 L237.89 426.26 L238.21 425.86 L238.54 425.55 L238.86 425.33 L239.18 425.15 L239.51 425.03 L239.83 424.94 L240.15 424.90 L240.48 424.90 L240.80 424.95 L241.12 425.08 L241.45 425.27 L241.77 425.51 L242.09 425.80 L242.42 426.14 L242.74 426.50 L243.06 426.90 L243.39 427.46 L243.71 428.18 L244.03 429.01 L244.36 429.89 L244.68 430.78 L245.00 431.66 L245.33 432.59 L245.65 433.56 L245.98 434.55 L246.30 435.56 L246.62 436.55 L246.95 437.51 L247.27 438.42 L247.59 439.28 L247.92 440.14 L248.24 440.97 L248.56 441.79 L248.89 442.58 L249.21 443.35 L249.53 444.10 L249.86 444.83 L250.18 445.54 L250.50 446.26 L250.83 446.96 L251.15 447.64 L251.47 448.29 L251.80 448.89 L252.12 449.43 L252.44 449.91 L252.77 450.38 L253.09 450.83 L253.41 451.28 L253.74 451.70 L254.06 452.11 L254.39 452.50 L254.71 452.86 L255.03 453.20 L255.36 453.50 L255.68 453.77 L256.00 454.00 L256.33 454.21 L256.65 454.43 L256.97 454.64 L257.30 454.84 L257.62 455.05 L257.94 455.24 L258.27 455.43 L258.59 455.61 L258.91 455.78 L259.24 455.94 L259.56 456.08 L259.88 456.21 L260.21 456.32 L260.53 456.42 L260.85 456.49 L261.18 456.55 L261.50 456.61 L261.83 456.67 L262.15 456.72 L262.47 456.78 L262.80 456.83 L263.12 456.89 L263.44 456.94 L263.77 456.99 L264.09 457.04 L264.41 457.09 L264.74 457.14 L265.06 457.19 L265.38 457.24 L265.71 457.29 L266.03 457.33 L266.35 457.38 L266.68 457.42 L267.00 457.47 L267.32 457.51 L267.65 457.55 L267.97 457.59 L268.29 457.64 L268.62 457.68 L268.94 457.72 L269.26 457.76 L269.59 457.80 L269.91 457.84 L270.24 457.88 L270.56 457.92 L270.88 457.96 L271.21 458.00 L271.53 458.04 L271.85 458.08 L272.18 458.13 L272.50 458.17 L272.82 458.21 L273.15 458.25 L273.47 458.29 L273.79 458.34 L274.12 458.38 L274.44 458.42 L274.76 458.46 L275.09 458.50 L275.41 458.54 L275.73 458.58 L276.06 458.61 L276.38 458.65 L276.70 458.69 L277.03 458.73 L277.35 458.76 L277.68 458.79 L278.00 458.83 L278.32 458.86 L278.65 458.89 L278.97 458.92 L279.29 458.95 L279.62 458.98 L279.94 459.00 L280.26 459.03 L280.59 459.05 L280.91 459.08 L281.23 459.10 L281.56 459.13 L281.88 459.15 L282.20 459.18 L282.53 459.20 L282.85 459.23 L283.17 459.25 L283.50 459.28 L283.82 459.30 L284.14 459.32 L284.47 459.35 L284.79 459.37 L285.12 459.39 L285.44 459.41 L285.76 459.44 L286.09 459.46 L286.41 459.48 L286.73 459.50 L287.06 459.52 L287.38 459.54 L287.70 459.56 L288.03 459.58 L288.35 459.60 L288.67 459.62 L289.00 459.64 L289.32 459.66 L289.64 459.68 L289.97 459.70 L290.29 459.71 L290.61 459.73 L290.94 459.75 L291.26 459.76 L291.58 459.78 L291.91 459.79 L292.23 459.81 L292.55 459.82 L292.88 459.83 L293.20 459.85 L293.53 459.86 L293.85 459.87 L294.17 459.88 L294.50 459.89 L294.82 459.90 L295.14 459.91 L295.47 459.92 L295.79 459.93 L296.11 459.94 L296.44 459.95 L296.76 459.96 L297.08 459.97 L297.41 459.98 L297.73 459.99 L298.05 459.99 L298.38 460.00 L298.70 460.01 L299.02 460.02 L299.35 460.03 L299.67 460.04 L299.99 460.05 L300.32 460.06 L300.64 460.07 L300.97 460.08 L301.29 460.09 L301.61 460.09 L301.94 460.10 L302.26 460.11 L302.58 460.12 L302.91 460.13 L303.23 460.14 L303.55 460.15 L303.88 460.16 L304.20 460.16 L304.52 460.17 L304.85 460.18 L305.17 460.19 L305.49 460.20 L305.82 460.21 L306.14 460.22 L306.46 460.22 L306.79 460.23 L307.11 460.24 L307.43 460.25 L307.76 460.26 L308.08 460.26 L308.40 460.27 L308.73 460.28 L309.05 460.29 L309.38 460.30 L309.70 460.30 L310.02 460.31 L310.35 460.32 L310.67 460.33 L310.99 460.33 L311.32 460.34 L311.64 460.35 L311.96 460.36 L312.29 460.36 L312.61 460.37 L312.93 460.38 L313.26 460.39 L313.58 460.39 L313.90 460.40 L314.23 460.41 L314.55 460.41 L314.87 460.42 L315.20 460.43 L315.52 460.43 L315.84 460.44 L316.17 460.45 L316.49 460.45 L316.82 460.46 L317.14 460.47 L317.46 460.47 L317.79 460.48 L318.11 460.49 L318.43 460.49 L318.76 460.50 L319.08 460.50 L319.40 460.51 L319.73 460.52 L320.05 460.52 L320.37 460.53 L320.70 460.53 L321.02 460.54 L321.34 460.54 L321.67 460.55 L321.99 460.55 L322.31 460.56 L322.64 460.57 L322.96 460.57 L323.28 460.58 L323.61 460.58 L323.93 460.58 L324.25 460.59 L324.58 460.59 L324.90 460.60 L325.23 460.60 L325.55 460.61 L325.87 460.61 L326.20 460.62 L326.52 460.62 L326.84 460.63 L327.17 460.63 L327.49 460.63 L327.81 460.64 L328.14 460.64 L328.46 460.65 L328.78 460.65 L329.11 460.66 L329.43 460.66 L329.75 460.67 L330.08 460.67 L330.40 460.68 L330.72 460.68 L331.05 460.69 L331.37 460.69 L331.69 460.69 L332.02 460.70 L332.34 460.70 L332.67 460.71 L332.99 460.71 L333.31 460.72 L333.64 460.72 L333.96 460.73 L334.28 460.73 L334.61 460.74 L334.93 460.74 L335.25 460.75 L335.58 460.75 L335.90 460.76 L336.22 460.76 L336.55 460.76 L336.87 460.77 L337.19 460.77 L337.52 460.78 L337.84 460.78 L338.16 460.79 L338.49 460.79 L338.81 460.80 L339.13 460.80 L339.46 460.81 L339.78 460.81 L340.11 460.82 L340.43 460.82 L340.75 460.82 L341.08 460.83 L341.40 460.83 L341.72 460.84 L342.05 460.84 L342.37 460.85 L342.69 460.85 L343.02 460.86 L343.34 460.86 L343.66 460.86 L343.99 460.87 L344.31 460.87 L344.63 460.88 L344.96 460.88 L345.28 460.89 L345.60 460.89 L345.93 460.89 L346.25 460.90 L346.57 460.90 L346.90 460.91 L347.22 460.91 L347.54 460.92 L347.87 460.92 L348.19 460.92 L348.52 460.93 L348.84 460.93 L349.16 460.94 L349.49 460.94 L349.81 460.94 L350.13 460.95 L350.46 460.95 L350.78 460.96 L351.10 460.96 L351.43 460.96 L351.75 460.97 L352.07 460.97 L352.40 460.97 L352.72 460.98 L353.04 460.98 L353.37 460.99 L353.69 460.99 L354.01 460.99 L354.34 461.00 L354.66 461.00 L354.98 461.00 L355.31 461.01 L355.63 461.01 L355.96 461.01 L356.28 461.02 L356.60 461.02 L356.93 461.02 L357.25 461.03 L357.57 461.03 L357.90 461.03 L358.22 461.03 L358.54 461.04 L358.87 461.04 L359.19 461.04 L359.51 461.05 L359.84 461.05 L360.16 461.05 L360.48 461.05 L360.81 461.06 L361.13 461.06 L361.45 461.06 L361.78 461.06 L362.10 461.07 L362.42 461.07 L362.75 461.07 L363.07 461.07 L363.39 461.08 L363.72 461.08 L364.04 461.08 L364.37 461.08 L364.69 461.08 L365.01 461.09 L365.34 461.09 L365.66 461.09 L365.98 461.09 L366.31 461.09 L366.63 461.10 L366.95 461.10 L367.28 461.10 L367.60 461.10" stroke="#0000ff"/>
<path d="M76.80 460.45 L77.12 460.44 L77.45 460.43 L77.77 460.42 L78.09 460.41 L78.42 460.40 L78.74 460.40 L79.06 460.39 L79.39 460.38 L79.71 460.37 L80.03 460.36 L80.36 460.35 L80.68 460.34 L81.01 460.33 L81.33 460.32 L81.65 460.32 L81.98 460.31 L82.30 460.30 L82.62 460.29 L82.95 460.28 L83.27 460.27 L83.59 460.26 L83.92 460.25 L84.24 460.24 L84.56 460.24 L84.89 460.23 L85.21 460.22 L85.53 460.21 L85.86 460.20 L86.18 460.19 L86.50 460.18 L86.83 460.17 L87.15 460.17 L87.47 460.16 L87.80 460.15 L88.12 460.14 L88.44 460.13 L88.77 460.12 L89.09 460.11 L89.42 460.10 L89.74 460.10 L90.06 460.09 L90.39 460.08 L90.71 460.07 L91.03 460.06 L91.36 460.05 L91.68 460.04 L92.00 460.04 L92.33 460.03 L92.65 460.02 L92.97 460.01 L93.30 460.00 L93.62 459.99 L93.94 459.98 L94.27 459.98 L94.59 459.97 L94.91 459.96 L95.24 459.95 L95.56 459.94 L95.88 459.93 L96.21 459.92 L96.53 459.92 L96.86 459.91 L97.18 459.90 L97.50 459.89 L97.83 459.88 L98.15 459.87 L98.47 459.87 L98.80 459.86 L99.12 459.85 L99.44 459.84 L99.77 459.83 L100.09 459.82 L100.41 459.82 L100.74 459.81 L101.06 459.80 L101.38 459.79 L101.71 459.78 L102.03 459.77 L102.35 459.77 L102.68 459.76 L103.00 459.75 L103.32 459.74 L103.65 459.73 L103.97 459.73 L104.29 459.72 L104.62 459.71 L104.94 459.70 L105.27 459.69 L105.59 459.69 L105.91 459.68 L106.24 459.67 L106.56 459.66 L106.88 459.65 L107.21 459.65 L107.53 459.64 L107.85 459.63 L108.18 459.62 L108.50 459.62 L108.82 459.61 L109.15 459.60 L109.47 459.59 L109.79 459.59 L110.12 459.58 L110.44 459.57 L110.76 459.56 L111.09 459.56 L111.41 459.55 L111.73 459.54 L112.06 459.53 L112.38 459.53 L112.71 459.52 L113.03 459.51 L113.35 459.50 L113.68 459.50 L114.00 459.49 L114.32 459.48 L114.65 459.48 L114.97 459.47 L115.29 459.46 L115.62 459.45 L115.94 459.45 L116.26 459.44 L116.59 459.43 L116.91 459.42 L117.23 459.42 L117.56 459.41 L117.88 459.40 L118.20 459.39 L118.53 459.39 L118.85 459.38 L119.17 459.37 L119.50 459.36 L119.82 459.36 L120.15 459.35 L120.47 459.34 L120.79 459.33 L121.12 459.33 L121.44 459.32 L121.76 459.31 L122.09 459.30 L122.41 459.29 L122.73 459.29 L123.06 459.28 L123.38 459.27 L123.70 459.26 L124.03 459.25 L124.35 459.25 L124.67 459.24 L125.00 459.23 L125.32 459.22 L125.64 459.21 L125.97 459.21 L126.29 459.20 L126.61 459.19 L126.94 459.18 L127.26 459.17 L127.58 459.16 L127.91 459.16 L128.23 459.15 L128.56 459.14 L128.88 459.13 L129.20 459.12 L129.53 459.11 L129.85 459.10 L130.17 459.10 L130.50 459.09 L130.82 459.08 L131.14 459.07 L131.47 459.06 L131.79 459.05 L132.11 459.04 L132.44 459.03 L132.76 459.02 L133.08 459.01 L133.41 458.99 L133.73 458.98 L134.05 458.97 L134.38 458.96 L134.70 458.95 L135.02 458.93 L135.35 458.92 L135.67 458.91 L136.00 458.90 L136.32 458.88 L136.64 458.87 L136.97 458.86 L137.29 458.84 L137.61 458.83 L137.94 458.81 L138.26 458.80 L138.58 458.79 L138.91 458.77 L139.23 458.76 L139.55 458.74 L139.88 458.73 L140.20 458.71 L140.52 458.69 L140.85 458.68 L141.17 458.66 L141.49 458.65 L141.82 458.63 L142.14 458.61 L142.46 458.60 L142.79 458.58 L143.11 458.56 L143.43 458.54 L143.76 458.52 L144.08 458.50 L144.41 458.48 L144.73 458.45 L145.05 458.43 L145.38 458.41 L145.70 458.38 L146.02 458.36 L146.35 458.33 L146.67 458.30 L146.99 458.27 L147.32 458.25 L147.64 458.22 L147.96 458.19 L148.29 458.16 L148.61 458.13 L148.93 458.10 L149.26 458.07 L149.58 458.04 L149.90 458.00 L150.23 457.97 L150.55 457.94 L150.87 457.91 L151.20 457.87 L151.52 457.84 L151.85 457.81 L152.17 457.77 L152.49 457.74 L152.82 457.71 L153.14 457.67 L153.46 457.64 L153.79 457.61 L154.11 457.57 L154.43 457.54 L154.76 457.50 L155.08 457.47 L155.40 457.44 L155.73 457.40 L156.05 457.37 L156.37 457.33 L156.70 457.29 L157.02 457.26 L157.34 457.22 L157.67 457.18 L157.99 457.14 L158.31 457.10 L158.64 457.06 L158.96 457.02 L159.28 456.98 L159.61 456.94 L159.93 456.90 L160.26 456.86 L160.58 456.82 L160.90 456.77 L161.23 456.73 L161.55 456.69 L161.87 456.64 L162.20 456.60 L162.52 456.56 L162.84 456.51 L163.17 456.47 L163.49 456.42 L163.81 456.38 L164.14 456.33 L164.46 456.29 L164.78 456.24 L165.11 456.20 L165.43 456.15 L165.75 456.11 L166.08 456.06 L166.40 456.01 L166.72 455.97 L167.05 455.92 L167.37 455.88 L167.70 455.83 L168.02 455.78 L168.34 455.73 L168.67 455.68 L168.99 455.64 L169.31 455.59 L169.64 455.53 L169.96 455.48 L170.28 455.43 L170.61 455.38 L170.93 455.33 L171.25 455.27 L171.58 455.22 L171.90 455.17 L172.22 455.11 L172.55 455.06 L172.87 455.00 L173.19 454.95 L173.52 454.89 L173.84 454.83 L174.16 454.78 L174.49 454.72 L174.81 454.66 L175.14 454.60 L175.46 454.54 L175.78 454.49 L176.11 454.43 L176.43 454.37 L176.75 454.31 L177.08 454.25 L177.40 454.19 L177.72 454.13 L178.05 454.07 L178.37 454.01 L178.69 453.95 L179.02 453.89 L179.34 453.82 L179.66 453.76 L179.99 453.70 L180.31 453.64 L180.63 453.58 L180.96 453.51 L181.28 453.45 L181.60 453.38 L181.93 453.31 L182.25 453.24 L182.57 453.17 L182.90 453.09 L183.22 453.02 L183.55 452.94 L183.87 452.86 L184.19 452.79 L184.52 452.71 L184.84 452.62 L185.16 452.54 L185.49 452.46 L185.81 452.37 L186.13 452.29 L186.46 452.20 L186.78 452.11 L187.10 452.02 L187.43 451.93 L187.75 451.84 L188.07 451.74 L188.40 451.65 L188.72 451.55 L189.04 451.46 L189.37 451.36 L189.69 451.26 L190.01 451.16 L190.34 451.06 L190.66 450.96 L190.99 450.86 L191.31 450.76 L191.63 450.65 L191.96 450.55 L192.28 450.44 L192.60 450.33 L192.93 450.23 L193.25 450.12 L193.57 450.01 L193.90 449.89 L194.22 449.75 L194.54 449.58 L194.87 449.40 L195.19 449.20 L195.51 448.98 L195.84 448.76 L196.16 448.51 L196.48 448.26 L196.81 448.00 L197.13 447.74 L197.45 447.47 L197.78 447.19 L198.10 446.92 L198.42 446.65 L198.75 446.37 L199.07 446.05 L199.40 445.69 L199.72 445.28 L200.04 444.84 L200.37 444.37 L200.69 443.87 L201.01 443.35 L201.34 442.82 L201.66 442.27 L201.98 441.65 L202.31 440.87 L202.63 439.95 L202.95 438.94 L203.28 437.85 L203.60 436.71 L203.92 435.54 L204.25 434.14 L204.57 432.50 L204.89 430.63 L205.22 428.55 L205.54 426.24 L205.86 423.39 L206.19 420.19 L206.51 416.95 L206.84 413.87 L207.16 410.78 L207.48 407.58 L207.81 404.15 L208.13 400.70 L208.45 397.48 L208.78 394.34 L209.10 391.19 L209.42 387.93 L209.75 384.40 L210.07 380.88 L210.39 377.71 L210.72 375.12 L211.04 372.88 L211.36 370.85 L211.69 368.91 L212.01 366.95 L212.33 364.85 L212.66 362.54 L212.98 360.10 L213.30 357.64 L213.63 355.30 L213.95 353.18 L214.27 351.20 L214.60 349.34 L214.92 347.72 L215.25 346.44 L215.57 345.38 L215.89 344.49 L216.22 343.88 L216.54 343.42 L216.86 343.03 L217.19 342.81 L217.51 342.87 L217.83 343.15 L218.16 343.57 L218.48 344.02 L218.80 344.65 L219.13 345.48 L219.45 346.44 L219.77 347.63 L220.10 349.21 L220.42 351.03 L220.74 353.00 L221.07 355.22 L221.39 357.63 L221.71 360.10 L222.04 362.54 L222.36 364.82 L222.69 367.01 L223.01 369.17 L223.33 371.29 L223.66 373.38 L223.98 375.43 L224.30 377.43 L224.63 379.39 L224.95 381.32 L225.27 383.22 L225.60 385.10 L225.92 386.98 L226.24 388.87 L226.57 390.79 L226.89 392.76 L227.21 394.75 L227.54 396.72 L227.86 398.61 L228.18 400.40 L228.51 402.04 L228.83 403.56 L229.15 405.02 L229.48 406.38 L229.80 407.66 L230.13 408.81 L230.45 409.85 L230.77 410.76 L231.10 411.59 L231.42 412.36 L231.74 413.09 L232.07 413.79 L232.39 414.49 L232.71 415.21 L233.04 415.96 L233.36 416.76 L233.68 417.63 L234.01 418.55 L234.33 419.51 L234.65 420.48 L234.98 421.47 L235.30 422.47 L235.62 423.46 L235.95 424.44 L236.27 425.41 L236.59 426.37 L236.92 427.32 L237.24 428.28 L237.56 429.23 L237.89 430.19 L238.21 431.15 L238.54 432.11 L238.86 433.08 L239.18 434.07 L239.51 435.07 L239.83 436.06 L240.15 437.05 L240.48 438.02 L240.80 438.96 L241.12 439.86 L241.45 440.74 L241.77 441.61 L242.09 442.46 L242.42 443.29 L242.74 444.08 L243.06 444.84 L243.39 445.56 L243.71 446.22 L244.03 446.86 L244.36 447.48 L244.68 448.07 L245.00 448.64 L245.33 449.19 L245.65 449.70 L245.98 450.19 L246.30 450.66 L246.62 451.13 L246.95 451.59 L247.27 452.03 L247.59 452.44 L247.92 452.83 L248.24 453.16 L248.56 453.45 L248.89 453.72 L249.21 453.98 L249.53 454.23 L249.86 454.47 L250.18 454.71 L250.50 454.93 L250.83 455.14 L251.15 455.33 L251.47 455.51 L251.80 455.68 L252.12 455.83 L252.44 455.96 L252.77 456.09 L253.09 456.21 L253.41 456.34 L253.74 456.46 L254.06 456.59 L254.39 456.70 L254.71 456.82 L255.03 456.93 L255.36 457.03 L255.68 457.13 L256.00 457.23 L256.33 457.31 L256.65 457.39 L256.97 457.46 L257.30 457.52 L257.62 457.57 L257.94 457.63 L258.27 457.69 L258.59 457.74 L258.91 457.80 L259.24 457.85 L259.56 457.91 L259.88 457.96 L260.21 458.01 L260.53 458.06 L260.85 458.11 L261.18 458.15 L261.50 458.19 L261.83 458.24 L262.15 458.27 L262.47 458.31 L262.80 458.34 L263.12 458.38 L263.44 458.40 L263.77 458.43 L264.09 458.45 L264.41 458.48 L264.74 458.50 L265.06 458.52 L265.38 458.53 L265.71 458.55 L266.03 458.57 L266.35 458.59 L266.68 458.61 L267.00 458.62 L267.32 458.64 L267.65 458.66 L267.97 458.68 L268.29 458.70 L268.62 458.72 L268.94 458.75 L269.26 458.77 L269.59 458.80 L269.91 458.83 L270.24 458.86 L270.56 458.89 L270.88 458.93 L271.21 458.96 L271.53 459.00 L271.85 459.03 L272.18 459.07 L272.50 459.11 L272.82 459.15 L273.15 459.19 L273.47 459.23 L273.79 459.27 L274.12 459.31 L274.44 459.35 L274.76 459.39 L275.09 459.43 L275.41 459.47 L275.73 459.51 L276.06 459.54 L276.38 459.58 L276.70 459.62 L277.03 459.65 L277.35 459.69 L277.68 459.72 L278.00 459.75 L278.32 459.78 L278.65 459.81 L278.97 459.84 L279.29 459.86 L279.62 459.88 L279.94 459.90 L280.26 459.92 L280.59 459.94 L280.91 459.96 L281.23 459.98 L281.56 460.00 L281.88 460.01 L282.20 460.03 L282.53 460.05 L282.85 460.07 L283.17 460.08 L283.50 460.10 L283.82 460.11 L284.14 460.13 L284.47 460.15 L284.79 460.16 L285.12 460.18 L285.44 460.19 L285.76 460.21 L286.09 460.22 L286.41 460.24 L286.73 460.25 L287.06 460.26 L287.38 460.28 L287.70 460.29 L288.03 460.30 L288.35 460.31 L288.67 460.33 L289.00 460.34 L289.32 460.35 L289.64 460.36 L289.97 460.37 L290.29 460.38 L290.61 460.39 L290.94 460.40 L291.26 460.41 L291.58 460.42 L291.91 460.43 L292.23 460.44 L292.55 460.45 L292.88 460.46 L293.20 460.46 L293.53 460.47 L293.85 460.48 L294.17 460.49 L294.50 460.49 L294.82 460.50 L295.14 460.51 L295.47 460.51 L295.79 460.52 L296.11 460.53 L296.44 460.53 L296.76 460.54 L297.08 460.54 L297.41 460.55 L297.73 460.56 L298.05 460.56 L298.38 460.57 L298.70 460.58 L299.02 460.58 L299.35 460.59 L299.67 460.59 L299.99 460.60 L300.32 460.61 L300.64 460.61 L300.97 460.62 L301.29 460.63 L301.61 460.63 L301.94 460.64 L302.26 460.64 L302.58 460.65 L302.91 460.66 L303.23 460.66 L303.55 460.67 L303.88 460.67 L304.20 460.68 L304.52 460.69 L304.85 460.69 L305.17 460.70 L305.49 460.70 L305.82 460.71 L306.14 460.72 L306.46 460.72 L306.79 460.73 L307.11 460.73 L307.43 460.74 L307.76 460.75 L308.08 460.75 L308.40 460.76 L308.73 460.76 L309.05 460.77 L309.38 460.77 L309.70 460.78 L310.02 460.79 L310.35 460.79 L310.67 460.80 L310.99 460.80 L311.32 460.81 L311.64 460.81 L311.96 460.82 L312.29 460.82 L312.61 460.83 L312.93 460.83 L313.26 460.84 L313.58 460.84 L313.90 460.85 L314.23 460.85 L314.55 460.86 L314.87 460.86 L315.20 460.87 L315.52 460.87 L315.84 460.88 L316.17 460.88 L316.49 460.89 L316.82 460.89 L317.14 460.90 L317.46 460.90 L317.79 460.91 L318.11 460.91 L318.43 460.92 L318.76 460.92 L319.08 460.93 L319.40 460.93 L319.73 460.94 L320.05 460.94 L320.37 460.94 L320.70 460.95 L321.02 460.95 L321.34 460.96 L321.67 460.96 L321.99 460.96 L322.31 460.97 L322.64 460.97 L322.96 460.98 L323.28 460.98 L323.61 460.98 L323.93 460.99 L324.25 460.99 L324.58 461.00 L324.90 461.00 L325.23 461.00 L325.55 461.01 L325.87 461.01 L326.20 461.01 L326.52 461.02 L326.84 461.02 L327.17 461.02 L327.49 461.03 L327.81 461.03 L328.14 461.03 L328.46 461.04 L328.78 461.04 L329.11 461.05 L329.43 461.05 L329.75 461.05 L330.08 461.06 L330.40 461.06 L330.72 461.06 L331.05 461.07 L331.37 461.07 L331.69 461.07 L332.02 461.08 L332.34 461.08 L332.67 461.09 L332.99 461.09 L333.31 461.09 L333.64 461.10 L333.96 461.10 L334.28 461.10 L334.61 461.11 L334.93 461.11 L335.25 461.11 L335.58 461.12 L335.90 461.12 L336.22 461.13 L336.55 461.13 L336.87 461.13 L337.19 461.14 L337.52 461.14 L337.84 461.14 L338.16 461.15 L338.49 461.15 L338.81 461.15 L339.13 461.16 L339.46 461.16 L339.78 461.16 L340.11 461.17 L340.43 461.17 L340.75 461.18 L341.08 461.18 L341.40 461.18 L341.72 461.19 L342.05 461.19 L342.37 461.19 L342.69 461.20 L343.02 461.20 L343.34 461.20 L343.66 461.21 L343.99 461.21 L344.31 461.21 L344.63 461.22 L344.96 461.22 L345.28 461.22 L345.60 461.23 L345.93 461.23 L346.25 461.23 L346.57 461.24 L346.90 461.24 L347.22 461.24 L347.54 461.25 L347.87 461.25 L348.19 461.25 L348.52 461.26 L348.84 461.26 L349.16 461.26 L349.49 461.27 L349.81 461.27 L350.13 461.27 L350.46 461.28 L350.78 461.28 L351.10 461.28 L351.43 461.28 L351.75 461.29 L352.07 461.29 L352.40 461.29 L352.72 461.30 L353.04 461.30 L353.37 461.30 L353.69 461.31 L354.01 461.31 L354.34 461.31 L354.66 461.31 L354.98 461.32 L355.31 461.32 L355.63 461.32 L355.96 461.32 L356.28 461.33 L356.60 461.33 L356.93 461.33 L357.25 461.34 L357.57 461.34 L357.90 461.34 L358.22 461.34 L358.54 461.35 L358.87 461.35 L359.19 461.35 L359.51 461.35 L359.84 461.35 L360.16 461.36 L360.48 461.36 L360.81 461.36 L361.13 461.36 L361.45 461.37 L361.78 461.37 L362.10 461.37 L362.42 461.37 L362.75 461.37 L363.07 461.38 L363.39 461.38 L363.72 461.38 L364.04 461.38 L364.37 461.38 L364.69 461.39 L365.01 461.39 L365.34 461.39 L365.66 461.39 L365.98 461.39 L366.31 461.39 L366.63 461.40 L366.95 461.40 L367.28 461.40 L367.60 461.40" stroke="#00ffff"/>
</g>
<rect x="89.7" y="263.25" width="112.74999999999999" height="86.19999999999999" fill="#fff"/>
<clipPath id="ci"><rect x="89.7" y="263.25" width="112.74999999999999" height="86.19999999999999"/></clipPath>
<g clip-path="url(#ci)" fill="none" stroke="#ff0000" stroke-linejoin="round">
<path d="M89.30 340.42 L89.68 340.37 L90.06 340.32 L90.43 340.27 L90.81 340.22 L91.19 340.16 L91.57 340.11 L91.94 340.05 L92.32 339.99 L92.70 339.93 L93.08 339.87 L93.45 339.81 L93.83 339.75 L94.21 339.69 L94.59 339.62 L94.96 339.56 L95.34 339.49 L95.72 339.43 L96.10 339.36 L96.47 339.29 L96.85 339.22 L97.23 339.16 L97.61 339.09 L97.98 339.02 L98.36 338.95 L98.74 338.88 L99.12 338.81 L99.49 338.75 L99.87 338.68 L100.25 338.61 L100.63 338.54 L101.01 338.47 L101.38 338.40 L101.76 338.33 L102.14 338.25 L102.52 338.18 L102.89 338.10 L103.27 338.02 L103.65 337.94 L104.03 337.86 L104.40 337.78 L104.78 337.69 L105.16 337.60 L105.54 337.52 L105.91 337.43 L106.29 337.34 L106.67 337.24 L107.05 337.15 L107.42 337.05 L107.80 336.95 L108.18 336.85 L108.56 336.75 L108.93 336.65 L109.31 336.54 L109.69 336.44 L110.07 336.33 L110.45 336.22 L110.82 336.10 L111.20 335.99 L111.58 335.87 L111.96 335.75 L112.33 335.63 L112.71 335.50 L113.09 335.37 L113.47 335.22 L113.84 335.06 L114.22 334.89 L114.60 334.71 L114.98 334.52 L115.35 334.33 L115.73 334.12 L116.11 333.91 L116.49 333.69 L116.86 333.46 L117.24 333.23 L117.62 332.99 L118.00 332.74 L118.37 332.49 L118.75 332.24 L119.13 331.98 L119.51 331.72 L119.88 331.46 L120.26 331.19 L120.64 330.92 L121.02 330.65 L121.40 330.38 L121.77 330.11 L122.15 329.84 L122.53 329.57 L122.91 329.30 L123.28 329.03 L123.66 328.76 L124.04 328.48 L124.42 328.19 L124.79 327.89 L125.17 327.59 L125.55 327.29 L125.93 326.97 L126.30 326.65 L126.68 326.32 L127.06 325.99 L127.44 325.64 L127.81 325.29 L128.19 324.93 L128.57 324.56 L128.95 324.18 L129.32 323.80 L129.70 323.40 L130.08 323.00 L130.46 322.58 L130.84 322.14 L131.21 321.67 L131.59 321.16 L131.97 320.63 L132.35 320.07 L132.72 319.50 L133.10 318.91 L133.48 318.31 L133.86 317.70 L134.23 317.09 L134.61 316.47 L134.99 315.86 L135.37 315.26 L135.74 314.67 L136.12 314.10 L136.50 313.54 L136.88 313.01 L137.25 312.49 L137.63 311.99 L138.01 311.51 L138.39 311.05 L138.76 310.61 L139.14 310.19 L139.52 309.80 L139.90 309.45 L140.27 309.12 L140.65 308.84 L141.03 308.59 L141.41 308.39 L141.79 308.23 L142.16 308.14 L142.54 308.12 L142.92 308.18 L143.30 308.31 L143.67 308.51 L144.05 308.77 L144.43 309.10 L144.81 309.48 L145.18 309.91 L145.56 310.40 L145.94 310.93 L146.32 311.51 L146.69 312.13 L147.07 312.78 L147.45 313.47 L147.83 314.19 L148.20 314.94 L148.58 315.72 L148.96 316.54 L149.34 317.39 L149.71 318.26 L150.09 319.13 L150.47 320.01 L150.85 320.87 L151.23 321.72 L151.60 322.54 L151.98 323.32 L152.36 324.06 L152.74 324.79 L153.11 325.52 L153.49 326.25 L153.87 326.97 L154.25 327.67 L154.62 328.35 L155.00 329.01 L155.38 329.64 L155.76 330.23 L156.13 330.78 L156.51 331.29 L156.89 331.77 L157.27 332.23 L157.64 332.67 L158.02 333.08 L158.40 333.48 L158.78 333.86 L159.15 334.22 L159.53 334.57 L159.91 334.90 L160.29 335.22 L160.66 335.53 L161.04 335.83 L161.42 336.12 L161.80 336.41 L162.18 336.71 L162.55 337.00 L162.93 337.28 L163.31 337.56 L163.69 337.83 L164.06 338.09 L164.44 338.34 L164.82 338.57 L165.20 338.79 L165.57 338.98 L165.95 339.16 L166.33 339.32 L166.71 339.47 L167.08 339.62 L167.46 339.77 L167.84 339.91 L168.22 340.05 L168.59 340.18 L168.97 340.31 L169.35 340.44 L169.73 340.56 L170.10 340.68 L170.48 340.79 L170.86 340.90 L171.24 341.00 L171.62 341.10 L171.99 341.20 L172.37 341.29 L172.75 341.37 L173.13 341.46 L173.50 341.54 L173.88 341.63 L174.26 341.71 L174.64 341.79 L175.01 341.88 L175.39 341.96 L175.77 342.04 L176.15 342.12 L176.52 342.20 L176.90 342.28 L177.28 342.35 L177.66 342.43 L178.03 342.50 L178.41 342.57 L178.79 342.64 L179.17 342.71 L179.54 342.78 L179.92 342.84 L180.30 342.90 L180.68 342.96 L181.05 343.01 L181.43 343.07 L181.81 343.12 L182.19 343.18 L182.57 343.23 L182.94 343.28 L183.32 343.33 L183.70 343.38 L184.08 343.43 L184.45 343.48 L184.83 343.52 L185.21 343.57 L185.59 343.61 L185.96 343.66 L186.34 343.70 L186.72 343.74 L187.10 343.78 L187.47 343.82 L187.85 343.85 L188.23 343.89 L188.61 343.92 L188.98 343.95 L189.36 343.98 L189.74 344.01 L190.12 344.04 L190.49 344.07 L190.87 344.10 L191.25 344.12 L191.63 344.15 L192.01 344.18 L192.38 344.20 L192.76 344.22 L193.14 344.25 L193.52 344.27 L193.89 344.29 L194.27 344.31 L194.65 344.34 L195.03 344.36 L195.40 344.37 L195.78 344.39 L196.16 344.41 L196.54 344.43 L196.91 344.44 L197.29 344.46 L197.67 344.47 L198.05 344.49 L198.42 344.50 L198.80 344.51 L199.18 344.53 L199.56 344.54 L199.93 344.55 L200.31 344.56 L200.69 344.56 L201.07 344.57 L201.44 344.58 L201.82 344.59 L202.20 344.59" stroke-width="0.8" stroke-dasharray="0.8 2.1"/>
<path d="M89.30 345.24 L89.68 345.22 L90.06 345.20 L90.43 345.18 L90.81 345.16 L91.19 345.14 L91.57 345.11 L91.94 345.08 L92.32 345.06 L92.70 345.03 L93.08 344.99 L93.45 344.96 L93.83 344.93 L94.21 344.89 L94.59 344.85 L94.96 344.81 L95.34 344.77 L95.72 344.73 L96.10 344.69 L96.47 344.64 L96.85 344.59 L97.23 344.54 L97.61 344.49 L97.98 344.44 L98.36 344.38 L98.74 344.33 L99.12 344.27 L99.49 344.21 L99.87 344.15 L100.25 344.08 L100.63 344.01 L101.01 343.95 L101.38 343.88 L101.76 343.81 L102.14 343.73 L102.52 343.66 L102.89 343.58 L103.27 343.50 L103.65 343.43 L104.03 343.35 L104.40 343.26 L104.78 343.18 L105.16 343.10 L105.54 343.01 L105.91 342.93 L106.29 342.84 L106.67 342.75 L107.05 342.66 L107.42 342.57 L107.80 342.48 L108.18 342.39 L108.56 342.30 L108.93 342.21 L109.31 342.12 L109.69 342.03 L110.07 341.93 L110.45 341.84 L110.82 341.75 L111.20 341.65 L111.58 341.56 L111.96 341.47 L112.33 341.37 L112.71 341.28 L113.09 341.18 L113.47 341.08 L113.84 340.98 L114.22 340.88 L114.60 340.77 L114.98 340.66 L115.35 340.55 L115.73 340.44 L116.11 340.33 L116.49 340.21 L116.86 340.09 L117.24 339.97 L117.62 339.85 L118.00 339.73 L118.37 339.61 L118.75 339.48 L119.13 339.36 L119.51 339.23 L119.88 339.10 L120.26 338.97 L120.64 338.85 L121.02 338.72 L121.40 338.58 L121.77 338.45 L122.15 338.32 L122.53 338.19 L122.91 338.06 L123.28 337.92 L123.66 337.78 L124.04 337.63 L124.42 337.47 L124.79 337.29 L125.17 337.11 L125.55 336.91 L125.93 336.71 L126.30 336.49 L126.68 336.26 L127.06 336.01 L127.44 335.76 L127.81 335.49 L128.19 335.20 L128.57 334.91 L128.95 334.60 L129.32 334.27 L129.70 333.94 L130.08 333.58 L130.46 333.21 L130.84 332.82 L131.21 332.41 L131.59 331.97 L131.97 331.51 L132.35 331.03 L132.72 330.53 L133.10 330.01 L133.48 329.48 L133.86 328.94 L134.23 328.38 L134.61 327.82 L134.99 327.24 L135.37 326.66 L135.74 326.07 L136.12 325.48 L136.50 324.89 L136.88 324.29 L137.25 323.69 L137.63 323.06 L138.01 322.41 L138.39 321.74 L138.76 321.06 L139.14 320.37 L139.52 319.67 L139.90 318.98 L140.27 318.28 L140.65 317.60 L141.03 316.92 L141.41 316.26 L141.79 315.63 L142.16 314.99 L142.54 314.34 L142.92 313.72 L143.30 313.17 L143.67 312.70 L144.05 312.36 L144.43 312.17 L144.81 312.18 L145.18 312.40 L145.56 312.74 L145.94 313.15 L146.32 313.63 L146.69 314.16 L147.07 314.72 L147.45 315.31 L147.83 315.92 L148.20 316.53 L148.58 317.13 L148.96 317.74 L149.34 318.35 L149.71 318.96 L150.09 319.57 L150.47 320.18 L150.85 320.79 L151.23 321.40 L151.60 322.00 L151.98 322.61 L152.36 323.21 L152.74 323.80 L153.11 324.40 L153.49 324.99 L153.87 325.58 L154.25 326.17 L154.62 326.76 L155.00 327.34 L155.38 327.92 L155.76 328.50 L156.13 329.08 L156.51 329.65 L156.89 330.20 L157.27 330.73 L157.64 331.24 L158.02 331.72 L158.40 332.19 L158.78 332.64 L159.15 333.06 L159.53 333.48 L159.91 333.87 L160.29 334.25 L160.66 334.62 L161.04 334.97 L161.42 335.31 L161.80 335.64 L162.18 335.95 L162.55 336.25 L162.93 336.54 L163.31 336.82 L163.69 337.08 L164.06 337.33 L164.44 337.57 L164.82 337.79 L165.20 337.99 L165.57 338.19 L165.95 338.37 L166.33 338.54 L166.71 338.70 L167.08 338.87 L167.46 339.03 L167.84 339.19 L168.22 339.34 L168.59 339.50 L168.97 339.65 L169.35 339.79 L169.73 339.93 L170.10 340.07 L170.48 340.20 L170.86 340.33 L171.24 340.45 L171.62 340.56 L171.99 340.67 L172.37 340.77 L172.75 340.87 L173.13 340.96 L173.50 341.05 L173.88 341.15 L174.26 341.24 L174.64 341.33 L175.01 341.42 L175.39 341.51 L175.77 341.60 L176.15 341.68 L176.52 341.77 L176.90 341.85 L177.28 341.93 L177.66 342.01 L178.03 342.08 L178.41 342.15 L178.79 342.22 L179.17 342.28 L179.54 342.34 L179.92 342.40 L180.30 342.45 L180.68 342.50 L181.05 342.54 L181.43 342.58 L181.81 342.63 L182.19 342.67 L182.57 342.71 L182.94 342.75 L183.32 342.79 L183.70 342.83 L184.08 342.87 L184.45 342.91 L184.83 342.95 L185.21 342.98 L185.59 343.02 L185.96 343.05 L186.34 343.09 L186.72 343.12 L187.10 343.15 L187.47 343.19 L187.85 343.22 L188.23 343.24 L188.61 343.27 L188.98 343.30 L189.36 343.33 L189.74 343.35 L190.12 343.38 L190.49 343.41 L190.87 343.43 L191.25 343.46 L191.63 343.49 L192.01 343.51 L192.38 343.54 L192.76 343.57 L193.14 343.59 L193.52 343.62 L193.89 343.64 L194.27 343.67 L194.65 343.69 L195.03 343.72 L195.40 343.74 L195.78 343.77 L196.16 343.79 L196.54 343.82 L196.91 343.84 L197.29 343.86 L197.67 343.89 L198.05 343.91 L198.42 343.93 L198.80 343.95 L199.18 343.97 L199.56 343.99 L199.93 344.01 L200.31 344.03 L200.69 344.05 L201.07 344.07 L201.44 344.09 L201.82 344.11 L202.20 344.13" stroke-width="0.8" stroke-dasharray="2.4 1.8"/>
<path d="M89.30 338.05 L89.68 337.98 L90.06 337.91 L90.43 337.83 L90.81 337.76 L91.19 337.68 L91.57 337.60 L91.94 337.51 L92.32 337.43 L92.70 337.34 L93.08 337.25 L93.45 337.16 L93.83 337.07 L94.21 336.98 L94.59 336.88 L94.96 336.79 L95.34 336.69 L95.72 336.59 L96.10 336.49 L96.47 336.39 L96.85 336.29 L97.23 336.19 L97.61 336.09 L97.98 335.99 L98.36 335.88 L98.74 335.78 L99.12 335.67 L99.49 335.57 L99.87 335.47 L100.25 335.36 L100.63 335.26 L101.01 335.15 L101.38 335.03 L101.76 334.92 L102.14 334.80 L102.52 334.68 L102.89 334.55 L103.27 334.43 L103.65 334.30 L104.03 334.16 L104.40 334.03 L104.78 333.89 L105.16 333.75 L105.54 333.61 L105.91 333.47 L106.29 333.33 L106.67 333.18 L107.05 333.03 L107.42 332.88 L107.80 332.73 L108.18 332.58 L108.56 332.43 L108.93 332.27 L109.31 332.12 L109.69 331.96 L110.07 331.81 L110.45 331.65 L110.82 331.49 L111.20 331.34 L111.58 331.18 L111.96 331.02 L112.33 330.86 L112.71 330.70 L113.09 330.53 L113.47 330.35 L113.84 330.15 L114.22 329.95 L114.60 329.74 L114.98 329.51 L115.35 329.28 L115.73 329.03 L116.11 328.78 L116.49 328.51 L116.86 328.24 L117.24 327.96 L117.62 327.67 L118.00 327.37 L118.37 327.06 L118.75 326.74 L119.13 326.42 L119.51 326.09 L119.88 325.75 L120.26 325.41 L120.64 325.05 L121.02 324.70 L121.40 324.33 L121.77 323.96 L122.15 323.58 L122.53 323.20 L122.91 322.81 L123.28 322.41 L123.66 322.00 L124.04 321.56 L124.42 321.09 L124.79 320.60 L125.17 320.08 L125.55 319.54 L125.93 318.96 L126.30 318.36 L126.68 317.72 L127.06 317.06 L127.44 316.36 L127.81 315.63 L128.19 314.86 L128.57 314.05 L128.95 313.21 L129.32 312.33 L129.70 311.41 L130.08 310.45 L130.46 309.45 L130.84 308.43 L131.21 307.40 L131.59 306.36 L131.97 305.31 L132.35 304.25 L132.72 303.19 L133.10 302.11 L133.48 301.04 L133.86 299.95 L134.23 298.86 L134.61 297.77 L134.99 296.68 L135.37 295.58 L135.74 294.48 L136.12 293.38 L136.50 292.27 L136.88 291.17 L137.25 290.06 L137.63 288.94 L138.01 287.80 L138.39 286.65 L138.76 285.49 L139.14 284.34 L139.52 283.18 L139.90 282.02 L140.27 280.88 L140.65 279.74 L141.03 278.62 L141.41 277.59 L141.79 276.73 L142.16 276.04 L142.54 275.53 L142.92 275.21 L143.30 275.09 L143.67 275.17 L144.05 275.40 L144.43 275.75 L144.81 276.23 L145.18 276.81 L145.56 277.51 L145.94 278.32 L146.32 279.22 L146.69 280.22 L147.07 281.30 L147.45 282.46 L147.83 283.70 L148.20 285.01 L148.58 286.38 L148.96 287.81 L149.34 289.27 L149.71 290.76 L150.09 292.25 L150.47 293.75 L150.85 295.22 L151.23 296.67 L151.60 298.07 L151.98 299.41 L152.36 300.69 L152.74 301.95 L153.11 303.21 L153.49 304.45 L153.87 305.68 L154.25 306.88 L154.62 308.07 L155.00 309.23 L155.38 310.36 L155.76 311.46 L156.13 312.52 L156.51 313.54 L156.89 314.54 L157.27 315.50 L157.64 316.43 L158.02 317.32 L158.40 318.19 L158.78 319.03 L159.15 319.84 L159.53 320.61 L159.91 321.36 L160.29 322.08 L160.66 322.77 L161.04 323.42 L161.42 324.06 L161.80 324.67 L162.18 325.28 L162.55 325.86 L162.93 326.43 L163.31 326.98 L163.69 327.50 L164.06 328.01 L164.44 328.49 L164.82 328.94 L165.20 329.37 L165.57 329.78 L165.95 330.15 L166.33 330.49 L166.71 330.84 L167.08 331.17 L167.46 331.50 L167.84 331.83 L168.22 332.14 L168.59 332.45 L168.97 332.75 L169.35 333.05 L169.73 333.33 L170.10 333.60 L170.48 333.87 L170.86 334.12 L171.24 334.36 L171.62 334.59 L171.99 334.80 L172.37 335.00 L172.75 335.19 L173.13 335.38 L173.50 335.56 L173.88 335.75 L174.26 335.93 L174.64 336.11 L175.01 336.28 L175.39 336.46 L175.77 336.63 L176.15 336.80 L176.52 336.96 L176.90 337.12 L177.28 337.28 L177.66 337.43 L178.03 337.58 L178.41 337.72 L178.79 337.85 L179.17 337.97 L179.54 338.09 L179.92 338.21 L180.30 338.31 L180.68 338.41 L181.05 338.50 L181.43 338.58 L181.81 338.67 L182.19 338.76 L182.57 338.85 L182.94 338.93 L183.32 339.01 L183.70 339.10 L184.08 339.18 L184.45 339.26 L184.83 339.33 L185.21 339.41 L185.59 339.48 L185.96 339.56 L186.34 339.63 L186.72 339.70 L187.10 339.76 L187.47 339.83 L187.85 339.89 L188.23 339.95 L188.61 340.01 L188.98 340.06 L189.36 340.12 L189.74 340.17 L190.12 340.22 L190.49 340.28 L190.87 340.33 L191.25 340.38 L191.63 340.44 L192.01 340.49 L192.38 340.54 L192.76 340.59 L193.14 340.64 L193.52 340.69 L193.89 340.74 L194.27 340.79 L194.65 340.84 L195.03 340.89 L195.40 340.94 L195.78 340.99 L196.16 341.04 L196.54 341.08 L196.91 341.13 L197.29 341.17 L197.67 341.22 L198.05 341.26 L198.42 341.30 L198.80 341.34 L199.18 341.38 L199.56 341.42 L199.93 341.46 L200.31 341.50 L200.69 341.53 L201.07 341.57 L201.44 341.60 L201.82 341.64 L202.20 341.67" stroke-width="1.05"/>
</g>
<g stroke="#000" stroke-width="1.4" fill="none" stroke-linecap="butt">
<rect x="76.5" y="256.7" width="290.7" height="214.60000000000002"/>
<path d="M88.61 471.3 v-2.6 M88.61 256.7 v2.6 M100.72 471.3 v-4.6 M100.72 256.7 v4.6 M112.84 471.3 v-2.6 M112.84 256.7 v2.6 M124.95 471.3 v-4.6 M124.95 256.7 v4.6 M137.06 471.3 v-2.6 M137.06 256.7 v2.6 M149.18 471.3 v-4.6 M149.18 256.7 v4.6 M161.29 471.3 v-2.6 M161.29 256.7 v2.6 M173.40 471.3 v-4.6 M173.40 256.7 v4.6 M185.51 471.3 v-2.6 M185.51 256.7 v2.6 M197.62 471.3 v-4.6 M197.62 256.7 v4.6 M209.74 471.3 v-2.6 M209.74 256.7 v2.6 M221.85 471.3 v-4.6 M221.85 256.7 v4.6 M233.96 471.3 v-2.6 M233.96 256.7 v2.6 M246.07 471.3 v-4.6 M246.07 256.7 v4.6 M258.19 471.3 v-2.6 M258.19 256.7 v2.6 M270.30 471.3 v-4.6 M270.30 256.7 v4.6 M282.41 471.3 v-2.6 M282.41 256.7 v2.6 M294.52 471.3 v-4.6 M294.52 256.7 v4.6 M306.64 471.3 v-2.6 M306.64 256.7 v2.6 M318.75 471.3 v-4.6 M318.75 256.7 v4.6 M330.86 471.3 v-2.6 M330.86 256.7 v2.6 M342.98 471.3 v-4.6 M342.98 256.7 v4.6 M355.09 471.3 v-2.6 M355.09 256.7 v2.6 M76.5 463.05 h4.6 M367.2 463.05 h-4.6 M76.5 442.41 h2.6 M367.2 442.41 h-2.6 M76.5 421.78 h4.6 M367.2 421.78 h-4.6 M76.5 401.14 h2.6 M367.2 401.14 h-2.6 M76.5 380.51 h4.6 M367.2 380.51 h-4.6 M76.5 359.87 h2.6 M367.2 359.87 h-2.6 M76.5 339.24 h4.6 M367.2 339.24 h-4.6 M76.5 318.60 h2.6 M367.2 318.60 h-2.6 M76.5 297.97 h4.6 M367.2 297.97 h-4.6 M76.5 277.33 h2.6 M367.2 277.33 h-2.6" stroke-width="1.3"/>
</g>
<g stroke="#000" stroke-width="0.8" fill="none">
<rect x="89.7" y="263.25" width="112.74999999999999" height="86.19999999999999"/>
<path d="M100.97 349.45 v-2.4 M100.97 263.25 v2.4 M112.25 349.45 v-1.4 M112.25 263.25 v1.4 M123.53 349.45 v-2.4 M123.53 263.25 v2.4 M134.80 349.45 v-1.4 M134.80 263.25 v1.4 M146.07 349.45 v-2.4 M146.07 263.25 v2.4 M157.35 349.45 v-1.4 M157.35 263.25 v1.4 M168.62 349.45 v-2.4 M168.62 263.25 v2.4 M179.90 349.45 v-1.4 M179.90 263.25 v1.4 M191.17 349.45 v-2.4 M191.17 263.25 v2.4 M89.7 347.12 h2.4 M202.45 347.12 h-2.4 M89.7 340.13 h1.4 M202.45 340.13 h-1.4 M89.7 333.14 h2.4 M202.45 333.14 h-2.4 M89.7 326.15 h1.4 M202.45 326.15 h-1.4 M89.7 319.16 h2.4 M202.45 319.16 h-2.4 M89.7 312.17 h1.4 M202.45 312.17 h-1.4 M89.7 305.19 h2.4 M202.45 305.19 h-2.4 M89.7 298.20 h1.4 M202.45 298.20 h-1.4 M89.7 291.21 h2.4 M202.45 291.21 h-2.4 M89.7 284.22 h1.4 M202.45 284.22 h-1.4 M89.7 277.23 h2.4 M202.45 277.23 h-2.4 M89.7 270.24 h1.4 M202.45 270.24 h-1.4" stroke-width="0.7"/>
</g>
<g font-size="10.5" stroke="#000" stroke-width="0.22">
<text x="76.50" y="483.9" text-anchor="middle">-120</text>
<text x="100.72" y="483.9" text-anchor="middle">-100</text>
<text x="124.95" y="483.9" text-anchor="middle">-80</text>
<text x="149.18" y="483.9" text-anchor="middle">-60</text>
<text x="173.40" y="483.9" text-anchor="middle">-40</text>
<text x="197.62" y="483.9" text-anchor="middle">-20</text>
<text x="221.85" y="483.9" text-anchor="middle">0</text>
<text x="246.07" y="483.9" text-anchor="middle">20</text>
<text x="270.30" y="483.9" text-anchor="middle">40</text>
<text x="294.52" y="483.9" text-anchor="middle">60</text>
<text x="318.75" y="483.9" text-anchor="middle">80</text>
<text x="342.98" y="483.9" text-anchor="middle">100</text>
<text x="367.20" y="483.9" text-anchor="middle">120</text>
</g>
<g font-size="11" stroke="#000" stroke-width="0.22">
<text x="72.3" y="466.55" text-anchor="end">0</text>
<text x="72.3" y="425.28" text-anchor="end">10</text>
<text x="72.3" y="384.01" text-anchor="end">20</text>
<text x="72.3" y="342.74" text-anchor="end">30</text>
<text x="72.3" y="301.47" text-anchor="end">40</text>
<text x="72.3" y="260.20" text-anchor="end">50</text>
</g>
<text x="222.1" y="502.3" font-size="10.6" text-anchor="middle" stroke="#000" stroke-width="0.2">T-T<tspan font-size="7.2">0</tspan> [day]</text>
<text transform="translate(43.2 365.8) rotate(-90) scale(1.04 0.86)" font-size="10" text-anchor="middle" stroke="#000" stroke-width="0.2">ΔDM [pc cm<tspan font-size="6" dy="-6.6">-3</tspan><tspan dy="6.6">]</tspan></text>
<g font-size="6.8" stroke="#000" stroke-width="0.15">
<text x="100.38" y="356.8" text-anchor="middle">-40</text>
<text x="122.93" y="356.8" text-anchor="middle">-20</text>
<text x="146.07" y="356.8" text-anchor="middle">0</text>
<text x="168.62" y="356.8" text-anchor="middle">20</text>
<text x="191.17" y="356.8" text-anchor="middle">40</text>
<text x="87.8" y="349.47" text-anchor="end">0</text>
<text x="87.8" y="335.49" text-anchor="end">3</text>
<text x="87.8" y="321.51" text-anchor="end">6</text>
<text x="87.8" y="307.54" text-anchor="end">9</text>
<text x="87.8" y="293.56" text-anchor="end">12</text>
<text x="87.8" y="279.58" text-anchor="end">15</text>
<text x="87.8" y="265.60" text-anchor="end">18</text>
</g>
<rect x="168.9" y="264.9" width="30.0" height="22.2" fill="#fff" stroke="#c4c4c4" stroke-width="0.6"/>
<g stroke="#ff0000" fill="none">
<path d="M170.6 269.5 H184.6" stroke-width="0.75" stroke-dasharray="0.75 2.05"/>
<path d="M170.6 276.5 H184.8" stroke-width="0.75" stroke-dasharray="2.7 1.5"/>
<path d="M170.6 283.8 H184.6" stroke-width="1.3"/>
</g>
<g font-size="5.8" stroke="#000" stroke-width="0.18">
<text x="186.2" y="271.5" textLength="11.4" lengthAdjust="spacingAndGlyphs">wind</text>
<text x="186.2" y="278.6">disc</text>
<text x="186.2" y="285.7">total</text>
</g>
<rect x="299.2" y="261.7" width="60.2" height="57.3" fill="#fff" stroke="#585858" stroke-width="0.9"/>
<g fill="none" stroke-width="1.8">
<path d="M303.4 272.8 H324.6" stroke="#ff0000"/>
<path d="M303.4 286.2 H324.6" stroke="#00ff00"/>
<path d="M303.4 299.8 H324.6" stroke="#0000ff"/>
<path d="M303.4 313.6 H324.6" stroke="#00ffff"/>
</g>
<g font-size="10" stroke="#000" stroke-width="0.25">
<text transform="translate(327.6 276.10) scale(0.87 1)">i<tspan font-size="6.9">d</tspan>=0<tspan font-size="6.4" dy="-5.3" dx="0.7">o</tspan></text>
<text transform="translate(327.6 289.50) scale(0.87 1)">i<tspan font-size="6.9">d</tspan>=45<tspan font-size="6.4" dy="-5.3" dx="0.7">o</tspan></text>
<text transform="translate(327.6 303.10) scale(0.87 1)">i<tspan font-size="6.9">d</tspan>=90<tspan font-size="6.4" dy="-5.3" dx="0.7">o</tspan></text>
<text transform="translate(327.6 316.90) scale(0.87 1)">i<tspan font-size="6.9">d</tspan>=135<tspan font-size="6.4" dy="-5.3" dx="0.7">o</tspan></text>
</g>
</svg></body></html>
